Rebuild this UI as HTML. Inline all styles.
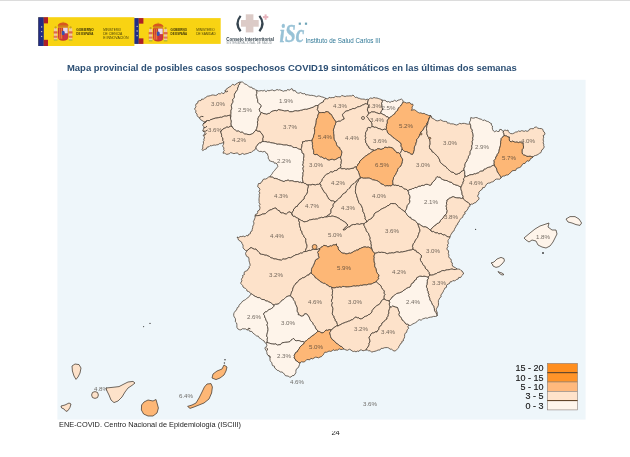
<!DOCTYPE html>
<html lang="es"><head><meta charset="utf-8"><title>Mapa provincial COVID19</title>
<style>
html,body{margin:0;padding:0;background:#fff;}
body{width:630px;height:457px;position:relative;overflow:hidden;font-family:"Liberation Sans",Arial,sans-serif;}
.abs{position:absolute;white-space:nowrap;}
</style></head><body>
<svg width="630" height="457" viewBox="0 0 630 457" style="position:absolute;left:0;top:0;filter:blur(0.35px)">
<rect x="57.4" y="79.8" width="528.2" height="339.8" fill="#eef6fa"/>
<g font-family="Liberation Sans, Arial, sans-serif" font-size="6.2" fill="#3a332c" fill-opacity="0.72" text-anchor="middle"><text x="101" y="390.8">4.8%</text></g>
<g stroke="#41382f" stroke-width="0.75" stroke-linejoin="round">
<polygon fill="#fde2ca" points="240.8,82 239.01,82.21 237.52,83.14 236,84 234.65,85.18 232.59,84.27 231.3,85.6 230.39,86.66 229,87.06 228,88 226.5,88.8 225.7,90.3 225.1,92.03 224,93.5 222.75,93.39 221.7,92.7 220.34,93.89 218.28,93.65 217,95 215.43,95.42 213.76,95.06 212.12,94.98 210.57,95.58 209,96 207.2,96.28 205.83,97.46 204.3,98.3 203.28,99.26 201.71,99.06 200.95,100.55 199.5,100.6 197.93,101.31 197.7,103.12 196.13,103.83 195.6,105.4 196.06,106.88 194.88,108.03 194.8,109.4 195.94,110.74 195.67,112.75 197,114 197.18,115.74 198.18,116.97 199.5,118 200.42,119.58 202,120.5 203.42,121.4 205,122 206.25,121.06 207.65,120.48 209.39,120.73 210.6,119.7 212.2,119.27 213.74,118.63 215.33,118.18 217,118 218.59,117.7 220.15,117.24 221.84,117.35 223.3,116.5 224.87,116.02 226.57,116.2 228.12,115.6 229.7,115.2 230.38,116.52 230.5,118 230.99,116.45 230.84,114.86 231.05,113.29 231,111.7 231.07,110.1 231.83,108.59 231.51,106.95 231.32,105.32 232,103.8 232.79,102.6 233.11,101.26 232.67,99.69 233.6,98.53 234.48,97.36 234.4,95.9 234.43,94.38 235.12,93.13 235.87,91.9 236.8,90.74 237.6,89.53 237.6,88 238.43,86.9 238.35,85.32 239.66,84.48 239.85,83.04"/>
<polygon fill="#fef4ea" points="240.8,82 239.85,83.04 239.66,84.48 238.35,85.32 238.43,86.9 237.6,88 237.6,89.53 236.8,90.74 235.87,91.9 235.12,93.13 234.43,94.38 234.4,95.9 234.48,97.36 233.6,98.53 232.67,99.69 233.11,101.26 232.79,102.6 232,103.8 231.32,105.32 231.51,106.95 231.83,108.59 231.07,110.1 231,111.7 231.05,113.29 230.84,114.86 230.99,116.45 230.5,118 230.67,119.5 231.15,120.97 231,122.5 230.81,123.96 231.14,125.3 232,126.5 233.2,128.4 234.36,129.47 235.7,130.3 236.78,131.29 238.3,130.97 239.5,131.6 240.64,132.42 242.21,132.07 243.3,133 244.69,134.05 246.4,134.11 248,134.5 249.66,134.63 251.22,134.24 252.7,133.5 253.96,132.48 254.82,131.09 256,130 256.72,128.48 257.17,126.88 257.53,125.27 257.7,123.6 257.37,121.93 258.16,120.41 257.96,118.76 258.5,117.2 259.16,116.04 260.27,115.12 260.41,113.7 261,112.5 259.71,111.13 259.3,109.3 259.9,108.02 261.03,107 261.2,105.5 260.4,104.39 259.16,103.64 258.19,102.67 257.7,101.3 257.71,99.62 257.07,98.11 256.85,96.49 256.1,95 256.88,93.51 256.92,91.92 256.7,90.3 255.34,89.82 254.22,88.78 252.7,88.7 251.79,87.2 249.98,87.19 248.7,86.3 247.51,85.35 246.31,84.4 244.8,84 243.65,82.96 242.46,82.02"/>
<polygon fill="#fde2ca" points="205,122 206.25,121.06 207.65,120.48 209.39,120.73 210.6,119.7 212.2,119.27 213.74,118.63 215.33,118.18 217,118 218.59,117.7 220.15,117.24 221.84,117.35 223.3,116.5 224.87,116.02 226.57,116.2 228.12,115.6 229.7,115.2 230.38,116.52 230.5,118 230.67,119.5 231.15,120.97 231,122.5 230.81,123.96 231.14,125.3 232,126.5 230.23,126.28 228.59,127.4 226.8,127 225.65,127.89 224.29,128.39 223,129 221.83,130.38 220.5,131.6 221.06,132.81 221.46,134.08 221.7,135.4 221.63,136.78 222.65,137.77 223,139 222.79,140.41 223.72,141.62 223.7,143 222.15,142.91 220.72,143.59 219.2,143.7 218.11,144.74 216.75,144.75 215.51,145.21 214.1,145 212.79,145.36 211.51,145.79 210.06,145.73 209,146.8 207.19,147.09 206.33,148.99 204.6,149.4 202.7,150.6 202,149.33 202.86,148.07 202.7,146.8 202.85,145.09 203.54,143.45 203.3,141.7 204.1,140.59 203.75,139.09 204.6,138 204.13,136.61 203.3,135.4 204.32,134.2 205.2,132.9 204.19,131.64 202.7,131 203.35,129.4 204,127.8 203.61,126.37 202.7,125.2 203.22,123.95 204.03,122.92"/>
<polygon fill="#fde2ca" points="232,126.5 230.23,126.28 228.59,127.4 226.8,127 225.65,127.89 224.29,128.39 223,129 221.83,130.38 220.5,131.6 221.06,132.81 221.46,134.08 221.7,135.4 221.63,136.78 222.65,137.77 223,139 222.79,140.41 223.72,141.62 223.7,143 223.58,144.29 222.81,145.46 223,146.8 223.95,147.89 223.66,149.4 224.3,150.6 223.36,151.75 223,153.2 224.42,153.12 225.61,153.77 226.8,154.4 228.22,154.07 229.6,153.66 230.6,152.5 232.25,153.11 233.91,153.65 235.7,153.2 237.57,152.89 238.93,154.71 240.8,154.4 242.41,153.42 244.24,154.37 245.9,153.8 247.24,153.59 248.5,153.13 249.7,152.5 251.25,152.44 252.3,151.37 253.5,150.6 255.09,149.63 256,148 256.14,146.52 257.3,145.6 258.08,144.03 259.5,143 260.89,143.02 261.72,141.74 263,141.5 262.93,139.97 262.85,138.45 263.5,137 263.01,135.37 262,134 260.81,132.56 259.8,131 258.42,131.12 257.14,130.8 256,130 254.82,131.09 253.96,132.48 252.7,133.5 251.22,134.24 249.66,134.63 248,134.5 246.4,134.11 244.69,134.05 243.3,133 242.21,132.07 240.64,132.42 239.5,131.6 238.3,130.97 236.78,131.29 235.7,130.3 234.36,129.47 233.2,128.4"/>
<polygon fill="#fef4ea" points="256.7,90.3 258.22,91 259.82,90.89 261.45,90.57 263,91 264.48,90.28 266.03,91.7 267.48,90.4 269,90.8 270.65,90.34 272.3,89.9 274.06,90.86 275.7,90.3 277.02,89.45 278.35,90.15 279.68,89.74 281,90.3 282.28,90.79 283.56,91.29 285.01,90.52 286.3,91 287.52,89.53 289.78,90.17 291,88.7 292.55,89.07 293.13,90.91 295.19,90.5 296,92 297.36,92.94 298.88,93.22 300.65,92.51 302,93.5 303.33,93.76 304.77,93.53 305.83,94.97 307.28,94.7 308.6,95 310.18,95.4 311.83,95.29 313.42,95.6 315,96 316.51,96.74 318.21,95.93 319.79,96.11 321.3,96.8 322.95,97.13 324.5,97.76 326,98.5 324.84,99.34 323.85,100.35 323.38,101.88 322,102.5 320.54,103.33 319.23,104.36 318,105.5 316.4,105.5 314.8,106.16 313.37,107.18 311.7,107.7 310.15,108.3 308.55,108.71 307.01,109.36 305.3,109.3 303.66,109.44 302.18,110.21 300.54,110.35 299,110.9 297.39,111.05 295.73,110.75 294.15,111.1 292.6,111.7 290.99,111.8 289.4,111.7 287.95,110.53 286.3,110.9 284.67,111.08 283.14,110.52 281.57,110.25 280,110 278.32,109.64 276.87,110.97 275.16,110.42 273.6,110.9 271.97,111.35 270.6,112.21 269.5,113.5 268.18,113.47 266.97,114.36 265.6,114 264.01,113.68 262.5,113.09 261,112.5 259.71,111.13 259.3,109.3 259.9,108.02 261.03,107 261.2,105.5 260.4,104.39 259.16,103.64 258.19,102.67 257.7,101.3 257.71,99.62 257.07,98.11 256.85,96.49 256.1,95 256.88,93.51 256.92,91.92"/>
<polygon fill="#fde2ca" points="261,112.5 262.5,113.09 264.01,113.68 265.6,114 266.97,114.36 268.18,113.47 269.5,113.5 270.6,112.21 271.97,111.35 273.6,110.9 275.16,110.42 276.87,110.97 278.32,109.64 280,110 281.57,110.25 283.14,110.52 284.67,111.08 286.3,110.9 287.95,110.53 289.4,111.7 290.99,111.8 292.6,111.7 294.15,111.1 295.73,110.75 297.39,111.05 299,110.9 300.54,110.35 302.18,110.21 303.66,109.44 305.3,109.3 307.01,109.36 308.55,108.71 310.15,108.3 311.7,107.7 313.37,107.18 314.8,106.16 316.4,105.5 318,105.5 318.07,106.85 317.83,108.15 317.3,109.4 318.27,110.89 319,112.5 318.64,113.85 317.9,115.06 317.84,116.53 317.37,117.84 316.5,119 316.25,120.61 316.18,122.25 315.96,123.87 315.45,125.43 315,127 314.31,128.34 314.74,129.8 314.64,131.21 314.6,132.62 314.3,134 313.71,135.57 313.44,137.26 312.64,138.75 312,140.3 310.38,140.62 308.68,140.53 307.1,141.1 305.47,141 303.98,141.74 302.4,141.9 302.65,143.27 301.99,144.55 302,145.9 301.7,147.19 301.31,148.47 301.2,149.8 299.86,149.32 298.4,149.1 297.32,148.02 296,147.5 294.3,147.57 292.71,147.27 291.39,145.84 289.7,145.9 288.14,145.41 286.56,145 284.92,145.1 283.3,145 281.76,144.48 280.19,144.27 278.61,144.18 277,144.3 275.49,143.53 273.88,143.19 272.24,142.96 270.6,142.7 269.12,142.12 267.49,142.25 266,141.7 264.5,141.62 263,141.5 262.93,139.97 262.85,138.45 263.5,137 263.01,135.37 262,134 260.81,132.56 259.8,131 258.42,131.12 257.14,130.8 256,130 256.72,128.48 257.17,126.88 257.53,125.27 257.7,123.6 257.37,121.93 258.16,120.41 257.96,118.76 258.5,117.2 259.16,116.04 260.27,115.12 260.41,113.7"/>
<polygon fill="#fef4ea" points="263,141.5 264.5,141.62 266,141.7 267.49,142.25 269.12,142.12 270.6,142.7 272.24,142.96 273.88,143.19 275.49,143.53 277,144.3 278.61,144.18 280.19,144.27 281.76,144.48 283.3,145 284.92,145.1 286.56,145 288.14,145.41 289.7,145.9 291.39,145.84 292.71,147.27 294.3,147.57 296,147.5 297.32,148.02 298.4,149.1 299.86,149.32 301.2,149.8 302.01,151.14 302.09,152.85 303.78,153.76 304,155.4 303.94,156.99 303.49,158.54 303.84,160.18 303.2,161.7 303.31,163.3 302.7,164.9 303.67,166.5 302.92,168.1 303.2,169.7 303.57,171.33 302.9,172.86 303.1,174.48 302.89,176.05 302.4,177.6 302.47,179.23 302.85,180.81 303.2,182.4 301.87,182.88 300.53,182.16 299.2,182.4 297.7,181.56 296.01,181.78 294.4,181.6 292.88,180.96 291.25,180.8 289.53,180.96 288.1,180 286.78,180.58 285.29,180.71 284.1,181.6 282.88,181.25 281.7,180.8 280.12,180.21 278.57,179.54 277.04,178.83 275.4,178.4 273.88,178.44 272.75,177.09 271.22,177.13 269.8,176.8 270.52,175.7 271.4,174.74 272.2,173.7 272.81,172.49 273.64,171.45 274.6,170.5 275.62,169.13 276.77,167.86 277.8,166.5 277.5,165.22 277,164 276.01,163 274.41,163.25 273.66,161.74 272.2,161.7 270.94,161.2 269.57,160.85 269,159.4 268.15,158.13 268.35,156.57 267.73,155.24 267.5,153.8 266.18,153.33 265.57,151.93 264.3,151.4 262.63,151.94 261.11,151.29 259.48,151.52 258,150.6 256.72,149.52 256,148 256.14,146.52 257.3,145.6 258.08,144.03 259.5,143 260.89,143.02 261.72,141.74"/>
<polygon fill="#fde2ca" points="326,98.5 327.72,99.01 329.09,97.32 330.81,97.84 332.4,97.5 334.02,97.64 335.44,96.26 337.1,96.74 338.7,96.7 340.36,96.89 341.78,95.41 343.5,96 345.1,96.52 346.7,95.98 348.3,96 349.91,95.86 351.56,95.91 353,95 354.23,96.22 355.4,97.5 356.85,97.19 358.04,98.17 359.4,98.3 360.89,99.02 362.54,99.1 364.2,99.11 365.7,99.8 367.1,99.18 368.6,99.5 368,101 367.5,103 366.56,103.94 365.05,103.69 364.1,104.6 362.45,105.08 361,106 359.41,106.62 357.69,106.92 356.2,107.8 354.71,108.67 352.88,108.49 351.4,109.4 349.79,109.82 348.35,110.7 346.7,111 345.37,111.39 344.6,112.58 343.5,113.3 342.58,114.33 342.7,115.7 343.64,117.28 344.3,119 342.84,119.55 341.5,120.3 340.3,121.3 338.9,121.16 337.58,121.48 336.3,122 335.01,120.87 334.21,119.35 333.2,118 332.45,116.64 331.66,115.3 330.8,114 329.48,113.63 328.86,112.25 327.6,111.8 326.01,111.67 324.6,112.67 323,112.5 321.67,112.59 320.33,112.63 319,112.5 318.27,110.89 317.3,109.4 317.83,108.15 318.07,106.85 318,105.5 319.23,104.36 320.54,103.33 322,102.5 323.38,101.88 323.85,100.35 324.84,99.34"/>
<polygon fill="#fdb776" points="319,112.5 320.33,112.63 321.67,112.59 323,112.5 324.6,112.67 326.01,111.67 327.6,111.8 328.86,112.25 329.48,113.63 330.8,114 331.66,115.3 332.45,116.64 333.2,118 334.21,119.35 335.01,120.87 336.3,122 335.6,123.29 335.41,124.8 334.5,126 334.39,127.42 333.86,128.71 333.3,130 333.74,131.57 333.66,133.2 334.03,134.78 334.1,136.38 334.1,138 334.4,139.69 335.24,141.17 336.29,142.58 336.5,144.3 337.17,145.77 338.27,146.8 339.7,147.5 340.14,149.23 341.38,150.56 342,152.2 341.59,153.83 341.35,155.51 340.5,157 339.29,157.58 337.97,157.93 336.94,158.88 335.7,159.4 334.18,160.05 332.49,159.36 330.9,159.43 329.4,160.2 328.01,160.02 326.84,159.24 325.75,158.25 324.09,158.78 323,157.8 321.88,157.09 320.39,157.1 319.34,156.26 318.3,155.4 316.85,154.42 314.97,154.71 313.5,153.8 313.61,152.19 313.57,150.6 312.89,149.07 312.41,147.53 312.7,145.9 312.23,144.54 312.45,143.09 311.87,141.74 312,140.3 312.64,138.75 313.44,137.26 313.71,135.57 314.3,134 314.6,132.62 314.64,131.21 314.74,129.8 314.31,128.34 315,127 315.45,125.43 315.96,123.87 316.18,122.25 316.25,120.61 316.5,119 317.37,117.84 317.84,116.53 317.9,115.06 318.64,113.85"/>
<polygon fill="#fde2ca" points="312,140.3 310.38,140.62 308.68,140.53 307.1,141.1 305.47,141 303.98,141.74 302.4,141.9 302.65,143.27 301.99,144.55 302,145.9 301.7,147.19 301.31,148.47 301.2,149.8 302.01,151.14 302.09,152.85 303.78,153.76 304,155.4 303.94,156.99 303.49,158.54 303.84,160.18 303.2,161.7 303.31,163.3 302.7,164.9 303.67,166.5 302.92,168.1 303.2,169.7 303.57,171.33 302.9,172.86 303.1,174.48 302.89,176.05 302.4,177.6 302.47,179.23 302.85,180.81 303.2,182.4 304.22,183.38 305.71,183.49 306.57,184.78 308,185 309.5,184.85 311.01,185.06 312.48,184.38 314,184.7 315.51,185.06 316.89,184.31 318.38,184.41 319.8,184 320.23,182.71 321.24,181.72 322.06,180.63 322.2,179.2 323.42,177.99 324.37,176.56 325.4,175.2 326.64,174.27 328.11,173.74 329.4,172.9 330.78,171.78 332.75,172.24 334.03,170.86 335.7,170.5 337.11,170.32 337.91,168.92 339.11,168.33 340.5,168.1 341.12,166.63 340.45,165 341.25,163.55 341.2,162 341.5,160.26 340.87,158.65 340.5,157 339.29,157.58 337.97,157.93 336.94,158.88 335.7,159.4 334.18,160.05 332.49,159.36 330.9,159.43 329.4,160.2 328.01,160.02 326.84,159.24 325.75,158.25 324.09,158.78 323,157.8 321.88,157.09 320.39,157.1 319.34,156.26 318.3,155.4 316.85,154.42 314.97,154.71 313.5,153.8 313.61,152.19 313.57,150.6 312.89,149.07 312.41,147.53 312.7,145.9 312.23,144.54 312.45,143.09 311.87,141.74"/>
<polygon fill="#fde2ca" points="336.3,122 337.58,121.48 338.9,121.16 340.3,121.3 341.5,120.3 342.84,119.55 344.3,119 343.64,117.28 342.7,115.7 342.58,114.33 343.5,113.3 344.6,112.58 345.37,111.39 346.7,111 348.35,110.7 349.79,109.82 351.4,109.4 352.88,108.49 354.71,108.67 356.2,107.8 357.69,106.92 359.41,106.62 361,106 362.45,105.08 364.1,104.6 365.05,103.69 366.56,103.94 367.5,103 367.62,104.4 368.66,105.55 368.6,107 367.79,108.43 367.3,110 368.18,111.56 368.6,113.3 367.98,115.09 366.7,116.5 367.67,117.46 368.47,118.56 369.2,119.7 369.83,120.89 370.85,121.78 371.7,122.8 372.1,124.04 372.05,125.45 373,126.5 371.54,126.82 370.32,127.92 368.62,127.42 367.3,128.2 367.39,129.9 366.45,131.34 365.53,132.78 365.7,134.5 365.18,136.1 365.97,137.7 365.25,139.3 365.7,140.9 365.81,142.61 366.94,143.97 367.3,145.6 368.73,146.31 369.06,148.11 370.5,148.8 371.66,149.68 373.19,149.65 374.4,150.4 372.95,150.95 371.78,151.97 370.5,152.8 369.42,153.78 368.06,154.34 366.98,155.32 365.7,156 364.54,157.01 363.25,157.88 362.26,159.1 361,160 359.81,161.19 359.46,163.01 358,164 357.52,165.75 356.2,167 354.65,166.94 353.56,168.38 352.01,168.32 350.6,168.7 349.08,169.24 347.42,168.88 345.9,169.4 344.67,168.58 343.2,168.73 341.74,168.88 340.5,168.1 341.12,166.63 340.45,165 341.25,163.55 341.2,162 341.5,160.26 340.87,158.65 340.5,157 341.35,155.51 341.59,153.83 342,152.2 341.38,150.56 340.14,149.23 339.7,147.5 338.27,146.8 337.17,145.77 336.5,144.3 336.29,142.58 335.24,141.17 334.4,139.69 334.1,138 334.1,136.38 334.03,134.78 333.66,133.2 333.74,131.57 333.3,130 333.86,128.71 334.39,127.42 334.5,126 335.41,124.8 335.6,123.29"/>
<polygon fill="#fde2ca" points="368.6,99.5 369.43,98.6 370.5,98 372.34,98.38 374,97.5 375.46,97.98 377,98 378.26,98.48 379.54,98.89 380.81,99.35 382,100 382.47,101.67 381.6,103.33 382,105 381.9,106.69 382.41,108.33 382.5,110 381.41,110.84 381.07,112.11 380.6,113.3 379.3,113.71 378,113.3 376.36,112.77 374.77,112.03 373,112 371.4,111.98 370.1,112.97 368.6,113.3 368.18,111.56 367.3,110 367.79,108.43 368.6,107 368.66,105.55 367.62,104.4 367.5,103 368,101"/>
<polygon fill="#fef4ea" points="382,100 383.3,100.37 384.76,100.35 386,100.88 387,102 388.47,101.5 390.06,102.43 391.48,101.39 393,101.5 394.47,100.29 396.52,101.34 398,100.2 399.73,99.81 401.3,99 402.8,100.2 403.2,102 402.41,103.38 401.5,104.69 400.6,106 399.61,106.89 398.68,107.84 398,109 397.64,110.46 396.41,111.26 395.5,112.3 394.86,113.75 393.58,114.57 392.4,115.5 391.41,116.43 390.26,117.15 389.2,118 388.1,116.92 386.34,116.83 385.4,115.5 384.22,114.95 383,114.5 381.89,113.72 380.6,113.3 381.07,112.11 381.41,110.84 382.5,110 382.41,108.33 381.9,106.69 382,105 381.6,103.33 382.47,101.67"/>
<polygon fill="#fde2ca" points="368.6,113.3 370.1,112.97 371.4,111.98 373,112 374.77,112.03 376.36,112.77 378,113.3 379.3,113.71 380.6,113.3 381.89,113.72 383,114.5 384.22,114.95 385.4,115.5 386.34,116.83 388.1,116.92 389.2,118 388.3,119.13 387.4,120.27 387.3,121.8 387.41,123.12 386.63,124.29 386.7,125.6 386.24,126.82 386.65,128.21 386,129.4 384.16,129.18 382.5,130 381.05,129.36 379.59,128.73 378,128.5 376.91,127.6 375.6,127.25 374.1,127.38 373,126.5 372.05,125.45 372.1,124.04 371.7,122.8 370.85,121.78 369.83,120.89 369.2,119.7 368.47,118.56 367.67,117.46 366.7,116.5 367.98,115.09"/>
<polygon fill="#fdb776" points="403.2,102 404.81,102.21 406.32,102.99 408,102.8 409.74,102.52 410.96,104.29 412.7,104 413.03,105.66 412,107 412.21,108.79 411.4,110.4 412.96,109.87 414.6,109.8 415.9,110.68 417.1,111.7 418.27,112.44 419.52,112.99 421.03,112.84 422.2,113.6 424.06,113.32 425.62,114.29 427.3,114.8 428.82,115.54 430.5,115.5 430.24,116.85 429.05,117.86 429.22,119.38 428.6,120.6 428.29,122.03 427.03,122.96 426.63,124.34 426,125.6 425.18,126.7 424.06,127.58 423.65,128.96 422.9,130.1 422.01,131.13 420.84,131.96 420.59,133.47 419.7,134.5 419.37,135.92 418.72,137.18 417.8,138.3 416.7,139.68 416.67,141.46 416,143 415.88,144.35 415.28,145.54 414.56,146.69 414.3,148 414.36,149.77 413.9,151.39 413.42,153.01 412.5,154.5 410.85,154.17 409.56,153.04 408,152.5 406.63,151.55 404.8,151.61 403.5,150.5 402,149 401.74,147.48 400.77,146.12 400.96,144.5 400.6,143 399.18,142.15 398.1,140.9 396.71,140.22 395.48,139.29 394.3,138.3 392.86,137.48 391.83,136.16 390.5,135.2 389.26,134.31 388.05,133.38 387.3,132 386.89,130.58 386,129.4 386.65,128.21 386.24,126.82 386.7,125.6 386.63,124.29 387.41,123.12 387.3,121.8 387.4,120.27 388.3,119.13 389.2,118 390.26,117.15 391.41,116.43 392.4,115.5 393.58,114.57 394.86,113.75 395.5,112.3 396.41,111.26 397.64,110.46 398,109 398.68,107.84 399.61,106.89 400.6,106 401.5,104.69 402.41,103.38"/>
<polygon fill="#fde2ca" points="373,126.5 374.1,127.38 375.6,127.25 376.91,127.6 378,128.5 379.59,128.73 381.05,129.36 382.5,130 384.16,129.18 386,129.4 386.89,130.58 387.3,132 388.05,133.38 389.26,134.31 390.5,135.2 391.83,136.16 392.86,137.48 394.3,138.3 395.48,139.29 396.71,140.22 398.1,140.9 399.18,142.15 400.6,143 400.96,144.5 400.77,146.12 401.74,147.48 402,149 401.6,150.69 400.83,152.21 399.8,153.6 398.39,152.67 396.7,152.8 395.8,151.33 394.29,150.35 393.5,148.8 392.03,147.88 390.41,147.41 388.7,147.2 387.4,147.7 386.1,147.33 384.8,147.2 383.8,148.41 382.39,148.94 381,149.5 379.35,148.9 377.6,148.8 376.16,149.91 374.4,150.4 373.19,149.65 371.66,149.68 370.5,148.8 369.06,148.11 368.73,146.31 367.3,145.6 366.94,143.97 365.81,142.61 365.7,140.9 365.25,139.3 365.97,137.7 365.18,136.1 365.7,134.5 365.53,132.78 366.45,131.34 367.39,129.9 367.3,128.2 368.62,127.42 370.32,127.92 371.54,126.82"/>
<polygon fill="#fdb776" points="374.4,150.4 376.16,149.91 377.6,148.8 379.35,148.9 381,149.5 382.39,148.94 383.8,148.41 384.8,147.2 386.1,147.33 387.4,147.7 388.7,147.2 390.41,147.41 392.03,147.88 393.5,148.8 394.29,150.35 395.8,151.33 396.7,152.8 398.39,152.67 399.8,153.6 400.49,154.73 400.74,156.08 401.37,157.24 402.2,158.3 402.71,159.87 402.37,161.43 402.2,163 401.51,164.4 401.02,165.92 399.8,167 398.57,168.07 397.76,169.37 397.5,171 396.47,172.49 395.9,174.2 394.98,175.18 394.46,176.46 393.5,177.4 393.4,179.27 392.7,181 392.98,182.74 393,184.5 391.9,185.12 391.1,186.1 389.73,185.68 388.35,185.92 386.98,185.57 385.6,186.1 384.38,185.54 383.36,184.57 382.03,184.24 380.8,183.7 379.72,182.35 378.29,181.43 376.8,180.6 375.38,180.34 374,179.99 372.55,179.82 371.3,179 369.77,178.29 368.16,178.09 366.5,178.2 364.88,178.19 363.24,178.24 361.7,177.6 360,178.5 360.1,176.92 359.57,175.49 359.13,174.03 358.6,172.6 358.31,171.07 357.02,169.96 356.41,168.57 356.2,167 357.52,165.75 358,164 359.46,163.01 359.81,161.19 361,160 362.26,159.1 363.25,157.88 364.54,157.01 365.7,156 366.98,155.32 368.06,154.34 369.42,153.78 370.5,152.8 371.78,151.97 372.95,150.95"/>
<polygon fill="#fde2ca" points="356.2,167 354.65,166.94 353.56,168.38 352.01,168.32 350.6,168.7 349.08,169.24 347.42,168.88 345.9,169.4 344.67,168.58 343.2,168.73 341.74,168.88 340.5,168.1 339.11,168.33 337.91,168.92 337.11,170.32 335.7,170.5 334.03,170.86 332.75,172.24 330.78,171.78 329.4,172.9 328.11,173.74 326.64,174.27 325.4,175.2 324.37,176.56 323.42,177.99 322.2,179.2 322.06,180.63 321.24,181.72 320.23,182.71 319.8,184 320.96,184.92 320.71,186.6 321.71,187.6 322.11,188.93 323,190 323.66,191.29 324.36,192.56 325.74,193.37 326.49,194.6 327,196 327.85,197.37 328.55,198.86 330.04,199.72 331,201 332.45,200.86 333.79,201.19 335,202 336.42,201.27 337.35,199.94 338.47,198.85 339.78,197.97 341,197 341.81,195.51 342.79,194.17 344.3,193.3 345.84,192.45 346.6,190.85 347.82,189.7 349,188.5 350.13,187.71 350.72,186.38 351.48,185.22 352.57,184.39 353.8,183.7 354.94,182.55 356.29,181.63 357.17,180.16 358.48,179.2 360,178.5 360.1,176.92 359.57,175.49 359.13,174.03 358.6,172.6 358.31,171.07 357.02,169.96 356.41,168.57"/>
<polygon fill="#fde2ca" points="308,185 309.5,184.85 311.01,185.06 312.48,184.38 314,184.7 315.51,185.06 316.89,184.31 318.38,184.41 319.8,184 320.96,184.92 320.71,186.6 321.71,187.6 322.11,188.93 323,190 323.66,191.29 324.36,192.56 325.74,193.37 326.49,194.6 327,196 327.85,197.37 328.55,198.86 330.04,199.72 331,201 332.45,200.86 333.79,201.19 335,202 334.01,203.38 333.08,204.79 333.24,206.75 332,208 331.12,209.37 330.97,210.99 331.02,212.67 330,214 328.57,214.87 327.11,215.7 326,217 324.47,217.09 323.04,217.74 321.43,217.33 320,218 318.64,218.21 317.44,219.1 316,219 314.69,219.33 313.32,219.19 312,219.5 310.59,219.8 309.18,220.1 308,221 306.7,221.45 305.34,221.67 304,222 302.86,221.06 301.47,220.55 300.19,219.86 299,219 297.54,218.16 296,217.5 294.84,216.39 293.05,216.29 292,215 291.7,213.5 292,212 293.38,210.95 293.59,209.03 295,208 295.66,206.66 297.3,206.3 297.8,204.8 299,204 299.71,202.71 301.07,202.07 301.7,200.7 302.83,199.83 304,199 304.22,197.24 305.06,195.78 306.33,194.54 307,193 307.57,191.45 307.45,189.81 307.73,188.22 308.22,186.65"/>
<polygon fill="#fde2ca" points="269.8,176.8 271.22,177.13 272.75,177.09 273.88,178.44 275.4,178.4 277.04,178.83 278.57,179.54 280.12,180.21 281.7,180.8 282.88,181.25 284.1,181.6 285.29,180.71 286.78,180.58 288.1,180 289.53,180.96 291.25,180.8 292.88,180.96 294.4,181.6 296.01,181.78 297.7,181.56 299.2,182.4 300.53,182.16 301.87,182.88 303.2,182.4 304.22,183.38 305.71,183.49 306.57,184.78 308,185 308.22,186.65 307.73,188.22 307.45,189.81 307.57,191.45 307,193 306.33,194.54 305.06,195.78 304.22,197.24 304,199 302.83,199.83 301.7,200.7 301.07,202.07 299.71,202.71 299,204 297.8,204.8 297.3,206.3 295.66,206.66 295,208 293.59,209.03 293.38,210.95 292,212 291.7,213.5 292,215 291.49,213.18 290,212 288.55,211.99 287.55,213.12 286.47,214.05 285,214 283.88,213.16 282.54,212.91 281.03,213.05 280,212 279.32,210.68 277.73,210.27 276.76,209.24 276,208 274.42,208.25 272.93,208.78 271.55,209.66 270,210 268.78,210.76 267.65,211.68 266.48,212.52 265.5,213.65 264,214 262.22,214.13 260.68,215.05 259,215.5 257.67,215.67 256.32,215.75 255,216 255.42,214.42 257,214 257.66,212.63 257.71,210.99 259.43,210.07 259.85,208.59 260,207 259.16,205.69 260.24,204.11 259.04,202.85 259.15,201.41 259,200 259.04,198.58 259.22,197.17 259.39,195.77 259.1,194.3 260,193 258.91,191.57 259.9,189.62 259.31,188.07 257.68,186.78 258,185 258.5,183.5 260.51,183.51 261.1,182.1 262.37,181.37 262.81,179.81 264,179 265.68,179.04 267.07,178.35 268.29,177.19"/>
<polygon fill="#fde2ca" points="255,216 256.32,215.75 257.67,215.67 259,215.5 260.68,215.05 262.22,214.13 264,214 265.5,213.65 266.48,212.52 267.65,211.68 268.78,210.76 270,210 271.55,209.66 272.93,208.78 274.42,208.25 276,208 276.76,209.24 277.73,210.27 279.32,210.68 280,212 281.03,213.05 282.54,212.91 283.88,213.16 285,214 286.47,214.05 287.55,213.12 288.55,211.99 290,212 291.49,213.18 292,215 293.05,216.29 294.84,216.39 296,217.5 297.54,218.16 299,219 298.61,220.67 299.54,222.18 299.31,223.84 299.5,225.44 300,227 300.54,228.49 300.46,230.18 302,231.33 302,233 302.63,234.32 303.64,235.38 303.97,236.88 305.08,237.88 306,239 305.7,240.59 305.98,242.09 306.33,243.57 307,245 307.02,246.43 306.74,247.77 305.93,248.94 305.76,250.31 305,251.5 303.43,251.97 302.18,253.19 300.39,253.11 299,254 297.54,254.47 295.99,254.7 294.65,255.44 293.29,256.15 292,257 290.61,257.82 288.83,257.48 287.42,258.27 286,259 284.49,259.16 282.9,258.92 281.58,260.21 280,260 278.51,259.69 277.04,259.29 275.55,258.94 274,259 272.54,258.16 270.82,257.85 269.62,256.51 268,256 266.49,255.23 264.8,255.21 263.28,254.47 261.61,254.36 260,254 259.27,252.54 258.18,251.35 256.84,250.38 256,249 254.41,249.31 252.98,248.63 251.59,247.73 250,248 249.15,249.15 247.82,249.82 247,251 245.28,250.33 244,249 243.05,247.82 243.06,246.4 243,245 242.05,243.63 241.5,241.96 240,241 238.51,240.03 237.92,238.4 237,237 238.64,237.59 240.13,236.52 241.72,236.58 243.26,236.12 244.91,236.85 246.36,235.38 248,236 248.54,234.38 250.32,233.76 250.53,231.87 252,231 252.18,229.34 252.7,227.77 252.8,226.1 253.65,224.61 254,223 253.39,221.48 254.13,220.16 254.64,218.81 255.08,217.44"/>
<polygon fill="#fde2ca" points="360,178.5 358.73,179.57 358.32,181.13 357.42,182.41 356.56,183.72 356.2,185.3 355.66,186.86 355.65,188.48 355.5,190.09 355.4,191.7 355.6,193.08 356.38,194.3 356.62,195.67 357,197 357.59,198.3 357.81,199.74 358.5,201 358.73,202.47 359.46,203.66 360.83,204.47 361.36,205.76 362,207 362.5,208.5 362.89,210.04 362.97,211.68 364,213 364.46,214.46 364.71,215.96 365.33,217.4 365,219 366.36,220.26 367,222 365.2,222.55 364,224 362.5,223.62 361,223.86 359.5,224.43 358,224 356.47,224.04 355.03,224.66 353.45,224.48 352,225 350.64,225.55 349.85,226.97 348.18,227.07 346.9,227.75 346,229 344.64,229.92 343,230 343.76,228.76 344.91,227.91 345.83,226.83 346.84,225.84 348,225 346.65,224.13 345.82,222.6 344.41,221.8 343,221 341.83,220.12 340.39,219.68 339.46,218.4 338,218 336.6,217.21 335.09,216.74 333.55,216.34 332,216 330.55,216.55 328.95,216.18 327.52,216.85 326,217 327.11,215.7 328.57,214.87 330,214 331.02,212.67 330.97,210.99 331.12,209.37 332,208 333.24,206.75 333.08,204.79 334.01,203.38 335,202 336.42,201.27 337.35,199.94 338.47,198.85 339.78,197.97 341,197 341.81,195.51 342.79,194.17 344.3,193.3 345.84,192.45 346.6,190.85 347.82,189.7 349,188.5 350.13,187.71 350.72,186.38 351.48,185.22 352.57,184.39 353.8,183.7 354.94,182.55 356.29,181.63 357.17,180.16 358.48,179.2"/>
<polygon fill="#fde2ca" points="360,178.5 361.7,177.6 363.24,178.24 364.88,178.19 366.5,178.2 368.16,178.09 369.77,178.29 371.3,179 372.55,179.82 374,179.99 375.38,180.34 376.8,180.6 378.29,181.43 379.72,182.35 380.8,183.7 382.03,184.24 383.36,184.57 384.38,185.54 385.6,186.1 386.98,185.57 388.35,185.92 389.73,185.68 391.1,186.1 391.9,185.12 393,184.5 394.26,185.1 395.64,184.98 396.9,185.6 398.3,185.3 399.34,186.16 400.61,186.57 402.08,186.6 403,187.7 404,188.8 405.59,189.01 406.92,189.62 407.8,190.9 408.75,192.11 408.6,193.77 409.5,195 410.06,196.46 409.95,197.98 409.36,199.54 410,201 409.56,202.66 408.61,204.06 407.4,205.33 407,207 406.65,208.31 406.22,209.59 405.32,210.68 405,212 403.79,210.95 402.39,210.13 401.26,208.99 400,208 398.68,207.32 397.66,206.34 397,205 396,204 394.5,203.58 393,203.7 391.5,203.51 390,204 388.98,205.42 387.27,205.91 386,207 384.49,207.72 382.93,208.36 381.44,209.13 380,210 378.93,211.05 377.61,211.69 376.31,212.35 375,213 374.19,214.21 373.99,215.8 372.77,216.76 372,218 370.78,219.04 369.21,219.63 367.92,220.59 367,222 366.36,220.26 365,219 365.33,217.4 364.71,215.96 364.46,214.46 364,213 362.97,211.68 362.89,210.04 362.5,208.5 362,207 361.36,205.76 360.83,204.47 359.46,203.66 358.73,202.47 358.5,201 357.81,199.74 357.59,198.3 357,197 356.62,195.67 356.38,194.3 355.6,193.08 355.4,191.7 355.5,190.09 355.65,188.48 355.66,186.86 356.2,185.3 356.56,183.72 357.42,182.41 358.32,181.13 358.73,179.57"/>
<polygon fill="#fde2ca" points="299,219 300.19,219.86 301.47,220.55 302.86,221.06 304,222 305.34,221.67 306.7,221.45 308,221 309.18,220.1 310.59,219.8 312,219.5 313.32,219.19 314.69,219.33 316,219 317.44,219.1 318.64,218.21 320,218 321.43,217.33 323.04,217.74 324.47,217.09 326,217 327.52,216.85 328.95,216.18 330.55,216.55 332,216 333.55,216.34 335.09,216.74 336.6,217.21 338,218 339.46,218.4 340.39,219.68 341.83,220.12 343,221 344.41,221.8 345.82,222.6 346.65,224.13 348,225 346.84,225.84 345.83,226.83 344.91,227.91 343.76,228.76 343,230 344.64,229.92 346,229 346.9,227.75 348.18,227.07 349.85,226.97 350.64,225.55 352,225 353.45,224.48 355.03,224.66 356.47,224.04 358,224 359.5,224.43 361,223.86 362.5,223.62 364,224 364.06,225.43 364.71,226.62 365.15,227.89 366,229 366.34,230.7 367.27,232.11 368.58,233.33 369,235 369.6,236.44 370.31,237.86 369.92,239.55 370.5,241 371.11,242.26 370.96,243.7 371.4,245 371.26,246.73 371.83,248.35 372.2,250 371.31,248.52 369.8,247.7 368.3,247.05 366.64,247.34 365.1,246.9 363.41,247.17 361.83,247.77 360.3,248.5 358.98,248.82 358.17,250.13 356.64,250.04 355.6,250.9 354.17,251.04 353.17,252.04 351.93,252.55 350.8,253.3 349.14,253.11 347.59,253.71 346,254 344.51,253.26 342.8,253.22 341.3,252.5 340.25,251.15 338.83,250.1 338.1,248.5 338,246.85 336.51,245.68 336.5,244 335.05,245.04 333.06,244.86 331.7,246.1 330.29,245.82 329.08,246.54 327.8,246.9 326.61,246.01 325.21,245.64 323.8,245.3 322.67,246.62 321.02,247.29 319.8,248.5 318.42,249.06 317,249.5 315.32,249.38 313.63,249.14 312,249.8 310.58,250.53 309,250.3 307.75,250.96 306.47,251.55 305,251.5 305.76,250.31 305.93,248.94 306.74,247.77 307.02,246.43 307,245 306.33,243.57 305.98,242.09 305.7,240.59 306,239 305.08,237.88 303.97,236.88 303.64,235.38 302.63,234.32 302,233 302,231.33 300.46,230.18 300.54,228.49 300,227 299.5,225.44 299.31,223.84 299.54,222.18 298.61,220.67"/>
<polygon fill="#fde2ca" points="367,222 367.92,220.59 369.21,219.63 370.78,219.04 372,218 372.77,216.76 373.99,215.8 374.19,214.21 375,213 376.31,212.35 377.61,211.69 378.93,211.05 380,210 381.44,209.13 382.93,208.36 384.49,207.72 386,207 387.27,205.91 388.98,205.42 390,204 391.5,203.51 393,203.7 394.5,203.58 396,204 397,205 397.66,206.34 398.68,207.32 400,208 401.26,208.99 402.39,210.13 403.79,210.95 405,212 406.23,213.16 407.02,214.65 408,216 409.08,216.98 410.64,217.23 411.32,218.82 412.62,219.47 414,220 415.29,220.71 416.32,221.68 417.02,222.98 418,224 418.38,225.54 419,227 419.49,228.5 420,230 419.79,231.6 418.92,232.97 418.55,234.52 418,236 417.67,237.5 416.57,238.54 415.8,239.78 415,241 414.6,242.47 413.36,243.52 413,245 412.48,246.33 413.07,247.67 413,249 411.64,249.91 410.09,250.17 408.54,250.39 407.06,250.87 405.57,251.32 404,251.5 402.53,252.03 401.02,251.96 399.55,252.46 398,252 396.47,251.98 395.01,252.48 393.56,253.06 392,252.8 390.52,253.13 389.01,253.12 387.55,253.74 386,253.3 384.57,252.56 383.06,252.43 381.55,252.31 380,252.5 378.57,252.18 377.28,252.77 375.96,253.17 374.6,253.3 373.78,252.21 372.65,251.36 372.2,250 371.83,248.35 371.26,246.73 371.4,245 370.96,243.7 371.11,242.26 370.5,241 369.92,239.55 370.31,237.86 369.6,236.44 369,235 368.58,233.33 367.27,232.11 366.34,230.7 366,229 365.15,227.89 364.71,226.62 364.06,225.43 364,224 365.2,222.55"/>
<polygon fill="#fef4ea" points="407.8,190.9 408.74,189.84 410.06,189.52 411.35,189.15 412.5,188.5 413.95,188.47 414.96,187.28 416.55,187.61 417.7,186.78 418.9,186.1 420.57,186.08 422.03,185.24 423.76,185.44 425.2,184.5 426.89,184.21 428.47,184.63 430,185.3 431.36,184.56 431.88,183.04 432.82,181.91 434,181 434.88,179.96 435.65,178.85 436.1,177.53 437,176.5 438.43,177.17 440,177 440.98,178.47 442.42,179.33 444,180 445.54,180.37 447.13,180.6 448.5,181.5 450,182 451.7,182.35 452.85,183.8 454.4,184.44 456,185 457.34,185.27 458.56,185.85 459.73,186.54 461,187 460.95,188.55 461.17,190.06 461.82,191.49 462,193 462.2,194.69 463.18,196.23 463,198 461.33,198.47 459.67,197.94 458,198 456.49,197.82 455,197.49 453.58,196.78 452,197 450.81,197.85 449.3,198.16 448.38,199.47 447,200 447.05,201.55 446.36,202.98 446.84,204.6 446,206 446.61,207.44 446.33,209.03 447.19,210.43 447,212 446.54,213.43 445.76,214.64 444.48,215.52 443.85,216.83 443,218 441.81,219.19 440.53,220.32 440,222 438.75,223.11 437.01,223.57 436,225 434.46,225.72 433.37,227.05 432,228 430.95,229.32 431,231 430.11,230 429.16,229.06 428.06,228.31 427,227.5 425.37,226.88 423.54,226.92 422,226 420.72,225.23 419.54,224.26 418,224 417.02,222.98 416.32,221.68 415.29,220.71 414,220 412.62,219.47 411.32,218.82 410.64,217.23 409.08,216.98 408,216 407.02,214.65 406.23,213.16 405,212 405.32,210.68 406.22,209.59 406.65,208.31 407,207 407.4,205.33 408.61,204.06 409.56,202.66 410,201 409.36,199.54 409.95,197.98 410.06,196.46 409.5,195 408.6,193.77 408.75,192.11"/>
<polygon fill="#fde2ca" points="430.5,115.5 430.21,116.88 429.37,118.05 428.97,119.39 428.43,120.67 428,122 427.85,123.68 427.08,125.21 426.77,126.85 426.5,128.5 426.62,130.13 427.07,131.71 426.85,133.4 427.27,134.98 428,136.5 429.12,137.8 429.47,139.44 430,141 430.12,142.67 430.14,144.33 429.39,145.93 429.5,147.6 430.08,149.09 431.66,149.96 432,151.6 433.62,152.3 434.71,153.68 436,154.8 437.22,155.93 438.22,157.23 439,158.7 439.7,159.97 440,161.39 440.6,162.7 441.91,163.75 443.2,164.84 444.57,165.81 446,166.7 446.88,168.04 447.97,169.15 449.15,170.17 450.29,171.23 451.7,172 453.07,172.22 454.15,172.93 455,174 456.78,174.23 458.37,173.53 460,173 461,171.56 462.49,170.76 464,170 464.71,171.42 464.78,172.95 464.75,174.5 465,176 464.76,177.59 463.44,178.81 463.99,180.66 463,182 462.98,183.44 462.17,184.57 461.67,185.82 461,187 459.73,186.54 458.56,185.85 457.34,185.27 456,185 454.4,184.44 452.85,183.8 451.7,182.35 450,182 448.5,181.5 447.13,180.6 445.54,180.37 444,180 442.42,179.33 440.98,178.47 440,177 438.43,177.17 437,176.5 436.1,177.53 435.65,178.85 434.88,179.96 434,181 432.82,181.91 431.88,183.04 431.36,184.56 430,185.3 428.47,184.63 426.89,184.21 425.2,184.5 423.76,185.44 422.03,185.24 420.57,186.08 418.9,186.1 417.7,186.78 416.55,187.61 414.96,187.28 413.95,188.47 412.5,188.5 411.35,189.15 410.06,189.52 408.74,189.84 407.8,190.9 406.92,189.62 405.59,189.01 404,188.8 403,187.7 402.08,186.6 400.61,186.57 399.34,186.16 398.3,185.3 396.9,185.6 395.64,184.98 394.26,185.1 393,184.5 392.98,182.74 392.7,181 393.4,179.27 393.5,177.4 394.46,176.46 394.98,175.18 395.9,174.2 396.47,172.49 397.5,171 397.76,169.37 398.57,168.07 399.8,167 401.02,165.92 401.51,164.4 402.2,163 402.37,161.43 402.71,159.87 402.2,158.3 401.37,157.24 400.74,156.08 400.49,154.73 399.8,153.6 400.83,152.21 401.6,150.69 402,149 403.5,150.5 404.8,151.61 406.63,151.55 408,152.5 409.56,153.04 410.85,154.17 412.5,154.5 413.42,153.01 413.9,151.39 414.36,149.77 414.3,148 414.56,146.69 415.28,145.54 415.88,144.35 416,143 416.67,141.46 416.7,139.68 417.8,138.3 418.72,137.18 419.37,135.92 419.7,134.5 420.59,133.47 420.84,131.96 422.01,131.13 422.9,130.1 423.65,128.96 424.06,127.58 425.18,126.7 426,125.6 426.63,124.34 427.03,122.96 428.29,122.03 428.6,120.6 429.22,119.38 429.05,117.86 430.24,116.85"/>
<polygon fill="#fde2ca" points="430.5,115.5 431.56,116.31 431.61,117.96 433,118.5 434.55,119.49 436,120.6 437.62,120.84 439.15,120.52 440.6,119.8 442.08,120.69 443.63,121.38 445.4,121.4 446.79,121.62 447.5,123.2 449.15,122.91 450.2,123.8 451.84,123.83 453.46,123.95 455,124.6 456.66,125.04 458.17,124.37 459.64,123.34 461.3,123.8 462.87,123.36 464.43,123.38 466,123.8 467.33,124.11 468.67,124.14 470,123.8 470.69,125.31 470.72,127.09 471.25,128.66 472.4,130 472.12,131.68 472.81,133.25 473.12,134.86 473.2,136.5 472.64,138.08 473.06,139.78 472.21,141.33 472.4,143 472.37,144.52 471.64,145.95 471.94,147.52 471.6,149 470.94,150.23 470.19,151.44 470.17,152.9 470.06,154.34 469.2,155.5 468.35,156.7 468.42,158.34 467.21,159.37 467.11,160.93 466,162 465.32,163.44 464.92,164.97 464.99,166.66 464,168 464,170 462.49,170.76 461,171.56 460,173 458.37,173.53 456.78,174.23 455,174 454.15,172.93 453.07,172.22 451.7,172 450.29,171.23 449.15,170.17 447.97,169.15 446.88,168.04 446,166.7 444.57,165.81 443.2,164.84 441.91,163.75 440.6,162.7 440,161.39 439.7,159.97 439,158.7 438.22,157.23 437.22,155.93 436,154.8 434.71,153.68 433.62,152.3 432,151.6 431.66,149.96 430.08,149.09 429.5,147.6 429.39,145.93 430.14,144.33 430.12,142.67 430,141 429.47,139.44 429.12,137.8 428,136.5 427.27,134.98 426.85,133.4 427.07,131.71 426.62,130.13 426.5,128.5 426.77,126.85 427.08,125.21 427.85,123.68 428,122 428.43,120.67 428.97,119.39 429.37,118.05 430.21,116.88"/>
<polygon fill="#fef4ea" points="470,123.8 469.39,122.12 470.44,120.66 470.61,119.08 470.8,117.5 472.37,118.05 473.93,118.1 475.5,117.5 477.1,117.69 478.51,118.46 480,119 481.59,119.24 482.81,120.56 484.68,119.96 486,121 487.45,121.42 488.88,121.91 490,123 491.42,123.51 491.39,125.23 492.5,126 492.29,127.78 492.56,129.45 493.5,131 494.75,131.8 496.24,130.72 497.5,131.5 499.13,131.43 499.79,129.41 501.5,129.5 502.15,130.82 503.6,131 503.31,132.54 504.12,133.98 504,135.5 503.23,136.73 502,137.5 501.14,138.66 501.16,140.11 500.7,141.4 500.75,142.83 500.52,144.22 500.41,145.63 500,147 499.54,148.47 499.19,149.97 499,151.5 498.45,153.05 497.28,154.33 497,156 495.8,156.82 495.73,158.41 494.96,159.51 494,160.5 494.29,162.09 494.1,163.72 494.5,165.3 492.94,165.33 491.71,166.13 490.5,167 488.75,167.31 487.09,167.84 485.7,169 484.2,169.16 483.44,170.78 482.06,171.19 480.43,171.1 479.4,172.2 478.25,173.04 476.85,173.19 475.68,173.97 474.16,173.81 473,174.6 471.25,174.66 469.57,175 468,175.8 466.54,176.5 465,176 464.75,174.5 464.78,172.95 464.71,171.42 464,170 464,168 464.99,166.66 464.92,164.97 465.32,163.44 466,162 467.11,160.93 467.21,159.37 468.42,158.34 468.35,156.7 469.2,155.5 470.06,154.34 470.17,152.9 470.19,151.44 470.94,150.23 471.6,149 471.94,147.52 471.64,145.95 472.37,144.52 472.4,143 472.21,141.33 473.06,139.78 472.64,138.08 473.2,136.5 473.12,134.86 472.81,133.25 472.12,131.68 472.4,130 471.25,128.66 470.72,127.09 470.69,125.31"/>
<polygon fill="#fde2ca" points="503.6,131 504.91,129.99 506.58,130.55 508,130 508.36,131.61 509.33,132.76 510.7,133.6 512.57,133.71 514.19,133.01 515.7,132 517.2,131.99 518.46,130.93 520.08,131.48 521.4,130.7 522.8,130.87 524.16,131.38 525.67,130.66 527,131.4 528.64,130.74 529.62,129.04 531.4,128.6 533.3,128.79 534.66,127.3 536.4,127 537.86,128.19 539.59,128.5 541.4,128.6 542.77,129.32 543.23,130.77 543.95,132.02 545,133 544.6,134.8 543,135.7 543.77,137.06 543.33,138.55 543.14,140.01 543.6,141.4 543.11,142.88 543.75,144.22 543.71,145.65 544.3,147 543.54,148.08 542.92,149.25 541.71,150.03 541.4,151.4 540.71,152.8 539.36,153.39 538.25,154.29 537,155 535.57,155.47 534.09,155.85 533,157 531.55,156.66 530.12,156.22 528.6,156.4 526.81,156.39 525.3,155.36 523.6,155 522.53,154.04 522.04,152.82 522,151.4 522.01,149.74 523.07,148.47 523.6,147 523.25,145.69 523.1,144.35 523,143 521.47,142.93 520.1,141.92 518.43,142.66 517,142 515.56,142.31 514.18,141.98 512.85,141.09 511.37,141.82 510,141.4 509.19,140.02 509.22,138.52 509.3,137 507.82,137.17 506.74,135.95 505.32,135.88 504,135.5 504.12,133.98 503.31,132.54"/>
<polygon fill="#fdb776" points="504,135.5 505.32,135.88 506.74,135.95 507.82,137.17 509.3,137 509.22,138.52 509.19,140.02 510,141.4 511.37,141.82 512.85,141.09 514.18,141.98 515.56,142.31 517,142 518.43,142.66 520.1,141.92 521.47,142.93 523,143 523.1,144.35 523.25,145.69 523.6,147 523.07,148.47 522.01,149.74 522,151.4 522.04,152.82 522.53,154.04 523.6,155 525.3,155.36 526.81,156.39 528.6,156.4 530.12,156.22 531.55,156.66 533,157 532.03,158.03 530.53,158.53 530,160 528.95,161.23 527.04,160.74 526,162 525,163.45 523.05,163.62 522,165 521.11,166.6 519.73,167.52 518,168 516.52,168.6 515.78,170.38 514,170.5 512.29,170.74 511.29,172.09 510,173 508.96,174.25 507.68,175.03 506,175 504.87,175.95 503.25,176.08 501.85,176.59 501,178 500.59,176.74 499.86,175.63 499.2,174.5 498.32,173.25 497.44,172 496.8,170.6 496.6,169.11 496.15,167.73 494.81,166.74 494.5,165.3 494.1,163.72 494.29,162.09 494,160.5 494.96,159.51 495.73,158.41 495.8,156.82 497,156 497.28,154.33 498.45,153.05 499,151.5 499.19,149.97 499.54,148.47 500,147 500.41,145.63 500.52,144.22 500.75,142.83 500.7,141.4 501.16,140.11 501.14,138.66 502,137.5 503.23,136.73"/>
<polygon fill="#fde2ca" points="465,176 466.54,176.5 468,175.8 469.57,175 471.25,174.66 473,174.6 474.16,173.81 475.68,173.97 476.85,173.19 478.25,173.04 479.4,172.2 480.43,171.1 482.06,171.19 483.44,170.78 484.2,169.16 485.7,169 487.09,167.84 488.75,167.31 490.5,167 491.71,166.13 492.94,165.33 494.5,165.3 494.81,166.74 496.15,167.73 496.6,169.11 496.8,170.6 497.44,172 498.32,173.25 499.2,174.5 499.86,175.63 500.59,176.74 501,178 499.84,179.17 498.17,179.14 496.49,179.07 495.09,179.69 494,181 492.73,181.8 491.24,182.14 490,183 488.38,183.09 487.03,183.72 486,185 485.31,186.31 484.52,187.52 482.64,187.64 482.23,189.23 481,190 479.99,191.09 478.81,192.09 478.88,193.83 478,195 477.62,196.51 478.95,197.6 479,199 478,200.32 476.67,201.22 475.76,202.64 474,203 472.9,204.14 471.2,204.07 470,205 469.32,203.68 468.36,202.64 467,202 465.89,201.11 464.69,200.31 463.64,199.36 463,198 463.18,196.23 462.2,194.69 462,193 461.82,191.49 461.17,190.06 460.95,188.55 461,187 461.67,185.82 462.17,184.57 462.98,183.44 463,182 463.99,180.66 463.44,178.81 464.76,177.59"/>
<polygon fill="#fde2ca" points="463,198 463.64,199.36 464.69,200.31 465.89,201.11 467,202 468.36,202.64 469.32,203.68 470,205 469.73,206.54 468.17,207.3 468.04,208.93 467,210 466.34,211.29 464.71,211.94 465.14,213.96 463.56,214.64 463,216 462.6,217.47 461.23,218.29 460.14,219.3 459.46,220.57 459,222 457.77,222.92 457.69,224.59 456.2,225.33 455.92,226.88 455,228 454.48,229.39 454.05,230.83 452.67,231.7 452,233 451.11,234.22 450.5,235.58 450,237 448.46,236.97 447,236.5 445.89,235.6 444.73,234.79 443.01,235.11 442,234 440.55,233.47 438.92,233.99 437.57,232.82 436,233 434.74,232.53 433.69,231.51 432.12,231.82 431,231 430.95,229.32 432,228 433.37,227.05 434.46,225.72 436,225 437.01,223.57 438.75,223.11 440,222 440.53,220.32 441.81,219.19 443,218 443.85,216.83 444.48,215.52 445.76,214.64 446.54,213.43 447,212 447.19,210.43 446.33,209.03 446.61,207.44 446,206 446.84,204.6 446.36,202.98 447.05,201.55 447,200 448.38,199.47 449.3,198.16 450.81,197.85 452,197 453.58,196.78 455,197.49 456.49,197.82 458,198 459.67,197.94 461.33,198.47"/>
<polygon fill="#fde2ca" points="418,224 419.54,224.26 420.72,225.23 422,226 423.54,226.92 425.37,226.88 427,227.5 428.06,228.31 429.16,229.06 430.11,230 431,231 432.12,231.82 433.69,231.51 434.74,232.53 436,233 437.57,232.82 438.92,233.99 440.55,233.47 442,234 443.01,235.11 444.73,234.79 445.89,235.6 447,236.5 448.46,236.97 450,237 449.65,238.31 448.61,239.34 448.01,240.55 448,242 448.44,243.62 447.35,244.97 448.06,246.63 447,248 446.93,249.54 448.49,250.6 448.61,252.08 448.27,253.7 449,255 448.66,256.61 449.29,257.95 450.83,259.02 451.33,260.39 451,262 452.36,262.88 452.23,264.66 452.55,266.17 454,267 455.6,267.85 457,269 455.33,269.55 453.67,269.5 452,269 450.51,269.32 449.04,269.74 447.52,269.85 446,270 444.58,270.75 442.83,270.5 441.37,271.12 440,272 438.71,272.39 437.38,272.71 436.33,273.71 435,274 433.43,274.84 431.77,275.17 430,275 429.03,273.92 429.02,272.37 428,271.31 427.5,270 426.1,269.23 425.14,268.07 424.84,266.33 423.5,265.5 422.67,264.3 422.31,262.82 421.17,261.8 420.5,260.5 420.27,258.72 421.25,257.18 421.5,255.5 420.28,254.56 419.27,253.38 418,252.5 416.44,252.07 415.8,250.33 414.04,250.17 413,249 413.07,247.67 412.48,246.33 413,245 413.36,243.52 414.6,242.47 415,241 415.8,239.78 416.57,238.54 417.67,237.5 418,236 418.55,234.52 418.92,232.97 419.79,231.6 420,230 419.49,228.5 419,227 418.38,225.54"/>
<polygon fill="#fde2ca" points="430,275 431.77,275.17 433.43,274.84 435,274 436.33,273.71 437.38,272.71 438.71,272.39 440,272 441.37,271.12 442.83,270.5 444.58,270.75 446,270 447.52,269.85 449.04,269.74 450.51,269.32 452,269 453.67,269.5 455.33,269.55 457,269 458.49,269.07 459.93,269.3 461,270.5 462.19,271.04 462.67,272.38 463.8,273 463.06,274.11 462.36,275.25 461.4,276.2 460.61,277.57 458.79,277.41 458.17,279.03 456.7,279.4 455.65,280.3 454.44,280.85 452.84,280.57 451.9,281.7 450.17,281.8 449.47,283.57 448,284.1 446.59,285.16 446.5,287.28 444.8,288.1 444.39,289.4 443.58,290.49 443.23,291.81 442.4,292.9 441.76,294.05 440.8,295.04 441.21,296.73 440,297.6 439.2,299.11 438.38,300.61 438.4,302.4 438.51,304 438.31,305.54 437.6,307 436.74,308.2 436.3,309.51 436.5,311 437.32,312.6 437.17,314.3 437,316 436.7,314.29 436,312.7 435.02,311.55 434.41,310.24 434.4,308.7 433.87,307.49 433.71,306.09 432.74,305.11 432,304 431.55,302.55 430.82,301.21 429.81,299.99 429.7,298.4 429.23,297.06 428.5,295.81 428.96,294.18 428,293 428.01,291.47 427.2,290.16 427.33,288.61 426.5,287.3 426.41,285.86 426.95,284.51 427.03,283.09 427.3,281.7 427.11,280.07 428.35,278.65 428,277 429.15,276.15"/>
<polygon fill="#fef4ea" points="428,277 426.66,276.67 425.32,276.37 424,276 422.54,276.51 420.93,276.05 419.41,276.2 418,277 416.67,277.67 416.34,279.34 415.01,280.01 414,281 413.62,282.48 412.02,283.14 411.14,284.29 410.7,285.73 410,287 408.34,287.44 406.8,288.1 405.46,289.18 404,290 402.75,291.24 401.24,291.97 399.72,292.7 398,293 396.62,293.53 395.5,294.44 394.25,295.18 393.21,296.21 392,297 391.28,298.54 389.96,299.64 389,301 389.7,302.42 389.11,304.06 389.51,305.54 390,307 391.37,307.15 392.59,306.08 394,306.5 395.7,307.19 397.5,307.5 398.04,309.27 398.7,311 399.44,312.59 398.71,314.42 399.5,316 400.63,317.15 401.52,318.45 402,320 403.16,320.84 404.27,321.73 405,323 406.06,324.26 407.83,324.33 409,325.4 410.55,325.41 411.78,324.61 413,323.8 414.38,323.27 415.67,322.61 416.88,321.82 417.8,320.6 419.22,319.63 421.17,320.23 422.5,319 424.06,318.52 425.61,317.93 427.3,318.3 428.77,317.51 430.36,317.18 432,317 433.61,316.39 435.36,316.49 437,316 436.7,314.29 436,312.7 435.02,311.55 434.41,310.24 434.4,308.7 433.87,307.49 433.71,306.09 432.74,305.11 432,304 431.55,302.55 430.82,301.21 429.81,299.99 429.7,298.4 429.23,297.06 428.5,295.81 428.96,294.18 428,293 428.01,291.47 427.2,290.16 427.33,288.61 426.5,287.3 426.41,285.86 426.95,284.51 427.03,283.09 427.3,281.7 427.11,280.07 428.35,278.65"/>
<polygon fill="#fde2ca" points="374.6,253.3 375.96,253.17 377.28,252.77 378.57,252.18 380,252.5 381.55,252.31 383.06,252.43 384.57,252.56 386,253.3 387.55,253.74 389.01,253.12 390.52,253.13 392,252.8 393.56,253.06 395.01,252.48 396.47,251.98 398,252 399.55,252.46 401.02,251.96 402.53,252.03 404,251.5 405.57,251.32 407.06,250.87 408.54,250.39 410.09,250.17 411.64,249.91 413,249 414.04,250.17 415.8,250.33 416.44,252.07 418,252.5 419.27,253.38 420.28,254.56 421.5,255.5 421.25,257.18 420.27,258.72 420.5,260.5 421.17,261.8 422.31,262.82 422.67,264.3 423.5,265.5 424.84,266.33 425.14,268.07 426.1,269.23 427.5,270 428,271.31 429.02,272.37 429.03,273.92 430,275 429.15,276.15 428,277 426.66,276.67 425.32,276.37 424,276 422.54,276.51 420.93,276.05 419.41,276.2 418,277 416.67,277.67 416.34,279.34 415.01,280.01 414,281 413.62,282.48 412.02,283.14 411.14,284.29 410.7,285.73 410,287 408.34,287.44 406.8,288.1 405.46,289.18 404,290 402.75,291.24 401.24,291.97 399.72,292.7 398,293 396.62,293.53 395.5,294.44 394.25,295.18 393.21,296.21 392,297 391.28,298.54 389.96,299.64 389,301 387.74,300.53 386.35,300.37 385.19,299.65 384,299 383.85,297.41 384.06,295.89 384.9,294.5 383.84,293.11 384.28,291.21 383.3,289.8 382.16,288.83 381.48,287.57 381.06,286.15 380.2,285 378.75,284.08 377.46,282.96 376.2,281.8 376.77,280.59 377.68,279.64 378.6,278.7 378.01,277.37 378.91,276.03 378.6,274.7 377.63,273.71 376.89,272.61 376.45,271.36 376.2,270 375.79,268.36 374.76,266.93 374.6,265.2 374.73,263.56 374.04,262.02 373.88,260.41 373.8,258.8 374.07,257.44 373.67,255.97 374.5,254.69"/>
<polygon fill="#fdb776" points="319.8,248.5 321.02,247.29 322.67,246.62 323.8,245.3 325.21,245.64 326.61,246.01 327.8,246.9 329.08,246.54 330.29,245.82 331.7,246.1 333.06,244.86 335.05,245.04 336.5,244 336.51,245.68 338,246.85 338.1,248.5 338.83,250.1 340.25,251.15 341.3,252.5 342.8,253.22 344.51,253.26 346,254 347.59,253.71 349.14,253.11 350.8,253.3 351.93,252.55 353.17,252.04 354.17,251.04 355.6,250.9 356.64,250.04 358.17,250.13 358.98,248.82 360.3,248.5 361.83,247.77 363.41,247.17 365.1,246.9 366.64,247.34 368.3,247.05 369.8,247.7 371.31,248.52 372.2,250 372.65,251.36 373.78,252.21 374.6,253.3 374.5,254.69 373.67,255.97 374.07,257.44 373.8,258.8 373.88,260.41 374.04,262.02 374.73,263.56 374.6,265.2 374.76,266.93 375.79,268.36 376.2,270 376.45,271.36 376.89,272.61 377.63,273.71 378.6,274.7 378.91,276.03 378.01,277.37 378.6,278.7 377.68,279.64 376.77,280.59 376.2,281.8 374.96,282.39 373.68,282.88 372.46,283.51 371.23,284.13 369.8,284.2 368.21,284.24 366.7,285.03 365.08,284.84 363.5,285 361.93,285.42 360.29,285.32 358.76,286.09 357.1,285.8 355.55,286.22 353.91,285.86 352.36,286.32 350.8,286.6 349.2,286.85 347.6,286.97 346,287 344.4,286.6 342.77,286.36 341.3,287.39 339.64,286.92 338.1,287.4 336.5,287.23 334.9,287.92 333.3,287.89 331.7,287.4 330.62,286.61 329.08,286.72 328.26,285.43 327,285 325.83,284.33 324.86,283.29 323.32,283.36 322.2,282.6 320.91,281.97 319.73,281.18 318.78,280.05 317.5,279.4 316.5,278.25 315,277.6 314.46,275.98 313.19,275.1 312.09,274.06 311,273 311.42,271.42 311.4,269.73 311.76,268.14 312.7,266.7 313.34,265.35 314.01,264.02 314.53,262.62 315,261.2 315.62,259.82 316.9,259.1 318.25,258.45 319,257.2 318.29,255.7 318.32,253.96 317.5,252.5 318.17,251.11 319.51,250.11"/>
<polygon fill="#fde2ca" points="247,251 247.82,249.82 249.15,249.15 250,248 251.59,247.73 252.98,248.63 254.41,249.31 256,249 256.84,250.38 258.18,251.35 259.27,252.54 260,254 261.61,254.36 263.28,254.47 264.8,255.21 266.49,255.23 268,256 269.62,256.51 270.82,257.85 272.54,258.16 274,259 275.55,258.94 277.04,259.29 278.51,259.69 280,260 281.58,260.21 282.9,258.92 284.49,259.16 286,259 287.42,258.27 288.83,257.48 290.61,257.82 292,257 293.29,256.15 294.65,255.44 295.99,254.7 297.54,254.47 299,254 300.39,253.11 302.18,253.19 303.43,251.97 305,251.5 306.47,251.55 307.75,250.96 309,250.3 310.58,250.53 312,249.8 313.63,249.14 315.32,249.38 317,249.5 318.42,249.06 319.8,248.5 319.51,250.11 318.17,251.11 317.5,252.5 318.32,253.96 318.29,255.7 319,257.2 318.25,258.45 316.9,259.1 315.62,259.82 315,261.2 314.53,262.62 314.01,264.02 313.34,265.35 312.7,266.7 311.76,268.14 311.4,269.73 311.42,271.42 311,273 309.63,273.55 308.96,275.09 307.23,275.13 306.3,276.3 305.04,276.91 303.9,277.79 302.32,277.76 301.32,278.9 300,279.4 298.89,280.18 298.13,281.35 297.32,282.46 296,283 295.47,284.38 294.24,285.34 293.69,286.71 293,288 292.7,289.41 292.43,290.83 291.5,292 291.26,293.29 290.83,294.53 290.5,295.8 288.73,296.03 287,296.5 285.77,297.36 284.74,298.43 283.7,299.5 282.27,300.26 281.03,301.25 280,302.5 278.74,303.81 277,304.3 275.52,304.31 274.2,305 272.63,304.58 271.57,303.23 270.23,302.4 268.7,301.9 267.37,301.07 265.7,301.06 264.58,299.72 263,299.5 261.57,299.42 260.56,298.29 259.37,297.62 257.88,297.69 256.7,297 255.22,296.44 253.87,295.65 252.66,294.6 251.2,294 250.09,292.59 248.67,291.62 247,291 246.56,289.44 245.55,288.45 244.16,287.84 243,287 242.76,285.65 241.76,284.6 240.8,283.53 241,282 242.03,280.96 241.43,279.27 242.08,278.08 243,277 242.53,275.47 244.45,274.53 244,273 244.63,271.63 246.05,271.05 247.43,270.43 248,269 249.28,268.06 249.21,266.59 250.1,265.49 250,264 249.45,262.38 249.01,260.73 249,259 248.57,257.24 246.77,256.51 246,255 245.52,253.46 246.06,252.18"/>
<polygon fill="#fde2ca" points="311,273 312.09,274.06 313.19,275.1 314.46,275.98 315,277.6 316.5,278.25 317.5,279.4 318.78,280.05 319.73,281.18 320.91,281.97 322.2,282.6 323.32,283.36 324.86,283.29 325.83,284.33 327,285 328.26,285.43 329.08,286.72 330.62,286.61 331.7,287.4 332.11,288.95 332.65,290.48 332.42,292.11 332.5,293.7 332.05,295.24 332.64,296.92 332.43,298.49 331.7,300 331.44,301.45 332.54,302.74 331.91,304.23 331.77,305.66 332.5,307 333.04,308.67 332.76,310.33 332.5,312 332.34,313.63 332.68,315.14 334.17,316.36 334,318 335.22,318.97 335.17,320.7 336.62,321.53 337,323 337.44,324.52 338,326 336.34,326.01 335,327 333.51,327.8 332.5,329.23 331,330 329.33,329.64 327.67,330.39 326,330 324.84,331.23 323.66,332.44 322,333 320.65,332.39 319.42,331.5 317.9,331.3 317.27,330.07 316.07,329.26 315.5,328 314.95,326.58 314.1,325.35 313.06,324.25 312.66,322.73 311.5,321.7 310.63,320.66 309.91,319.55 309.51,318.27 309.1,317 308.12,315.88 307.41,314.5 306,313.8 304.55,313.91 303.81,315.42 302.62,316.04 301.2,316.2 299.72,315.17 298,314.6 298.37,313.12 297.3,311.84 297.02,310.45 297.2,309 296.95,307.39 296.35,305.91 295.6,304.48 295,303 294.82,301.62 293.87,300.55 293.22,299.36 293,298 291.42,297.28 290.5,295.8 290.83,294.53 291.26,293.29 291.5,292 292.43,290.83 292.7,289.41 293,288 293.69,286.71 294.24,285.34 295.47,284.38 296,283 297.32,282.46 298.13,281.35 298.89,280.18 300,279.4 301.32,278.9 302.32,277.76 303.9,277.79 305.04,276.91 306.3,276.3 307.23,275.13 308.96,275.09 309.63,273.55"/>
<polygon fill="#fde2ca" points="331.7,287.4 333.3,287.89 334.9,287.92 336.5,287.23 338.1,287.4 339.64,286.92 341.3,287.39 342.77,286.36 344.4,286.6 346,287 347.6,286.97 349.2,286.85 350.8,286.6 352.36,286.32 353.91,285.86 355.55,286.22 357.1,285.8 358.76,286.09 360.29,285.32 361.93,285.42 363.5,285 365.08,284.84 366.7,285.03 368.21,284.24 369.8,284.2 371.23,284.13 372.46,283.51 373.68,282.88 374.96,282.39 376.2,281.8 377.46,282.96 378.75,284.08 380.2,285 381.06,286.15 381.48,287.57 382.16,288.83 383.3,289.8 384.28,291.21 383.84,293.11 384.9,294.5 384.06,295.89 383.85,297.41 384,299 382.79,299.79 381.58,300.58 381,302 380.18,303.18 379.37,304.37 378,305 376.56,305.86 375.31,306.97 374,308 373.22,309.23 372.25,310.35 372.02,311.91 371,313 369.9,314.31 368.2,314.82 367,316 365.49,316.35 364.08,316.92 362.94,318.13 361.56,318.76 360,319 358.89,317.88 357.24,317.86 356,317 354.65,317.58 353.69,318.82 352.51,319.68 351,320 349.77,320.99 348.23,321.28 346.88,322 345.38,322.35 344,323 342.38,323.5 340.96,324.43 339.45,325.16 338,326 337.44,324.52 337,323 336.62,321.53 335.17,320.7 335.22,318.97 334,318 334.17,316.36 332.68,315.14 332.34,313.63 332.5,312 332.76,310.33 333.04,308.67 332.5,307 331.77,305.66 331.91,304.23 332.54,302.74 331.44,301.45 331.7,300 332.43,298.49 332.64,296.92 332.05,295.24 332.5,293.7 332.42,292.11 332.65,290.48 332.11,288.95"/>
<polygon fill="#fef4ea" points="251.2,294 250.07,295.09 249.29,296.54 248.04,297.51 246.76,298.44 245.6,299.5 244.26,300.3 242.81,300.98 241.81,302.19 240.9,303.5 239.68,304.3 239,305.48 238.69,306.93 237.28,307.6 236.9,309 236.35,310.32 235.01,311.25 234.26,312.48 233.75,313.83 233.7,315.4 234.19,316.95 235.27,318.35 235.54,319.96 235.3,321.7 236.51,322.87 236.87,324.28 236.9,325.79 236.9,327.3 237.77,328.83 239.3,329.7 240.95,329.91 242.36,328.72 244,328.9 245.64,328.92 247.1,330.06 248.8,329.7 249.68,331.33 251.81,331.41 252.8,332.9 254.1,333.94 255.4,334.97 256.7,336 258.31,336.18 259.06,337.66 260.3,338.4 261.5,339.2 262.57,340.26 264.08,340.88 264.7,342.4 265.85,343.18 267,342.4 267.36,340.8 267.21,339.2 267.57,337.6 266.62,336 267,334.4 267.32,332.81 267.75,331.24 268.06,329.65 267.9,328 267.49,326.45 266.96,324.92 267.61,323.22 267,321.7 266.05,320.22 265.57,318.52 264.7,317 264.54,315.65 263.68,314.43 264,313 265.18,312.01 266.76,311.66 267.9,310.6 269.04,309.56 270.56,309.17 271.8,308.3 272.98,307.47 273.85,306.43 274.2,305 272.63,304.58 271.57,303.23 270.23,302.4 268.7,301.9 267.37,301.07 265.7,301.06 264.58,299.72 263,299.5 261.57,299.42 260.56,298.29 259.37,297.62 257.88,297.69 256.7,297 255.22,296.44 253.87,295.65 252.66,294.6"/>
<polygon fill="#fef4ea" points="290.5,295.8 288.73,296.03 287,296.5 285.77,297.36 284.74,298.43 283.7,299.5 282.27,300.26 281.03,301.25 280,302.5 278.74,303.81 277,304.3 275.52,304.31 274.2,305 273.85,306.43 272.98,307.47 271.8,308.3 270.56,309.17 269.04,309.56 267.9,310.6 266.76,311.66 265.18,312.01 264,313 263.68,314.43 264.54,315.65 264.7,317 265.57,318.52 266.05,320.22 267,321.7 267.61,323.22 266.96,324.92 267.49,326.45 267.9,328 268.06,329.65 267.75,331.24 267.32,332.81 267,334.4 266.62,336 267.57,337.6 267.21,339.2 267.36,340.8 267,342.4 268.36,342.94 269.77,343.31 271.15,343.79 272.6,344 274.21,344.16 275.86,343.9 277.33,345.12 279,344.8 280.56,344.63 281.58,343.21 282.97,342.66 284.5,342.4 285.88,342.25 287.28,342.21 288.66,342.04 290,341.6 290.88,340.3 292.24,339.5 293.3,338.4 294.33,339.2 295.07,340.39 296.4,340.8 298.09,340.5 299.68,340.85 301.2,341.6 302.93,341.48 304.4,342.4 305.27,341.26 306.57,340.58 307.56,339.56 308.5,338.5 309.85,338.09 310.83,337.12 311.75,336.06 313,335.5 314.27,334.5 315.51,333.47 316.71,332.39 317.9,331.3 317.27,330.07 316.07,329.26 315.5,328 314.95,326.58 314.1,325.35 313.06,324.25 312.66,322.73 311.5,321.7 310.63,320.66 309.91,319.55 309.51,318.27 309.1,317 308.12,315.88 307.41,314.5 306,313.8 304.55,313.91 303.81,315.42 302.62,316.04 301.2,316.2 299.72,315.17 298,314.6 298.37,313.12 297.3,311.84 297.02,310.45 297.2,309 296.95,307.39 296.35,305.91 295.6,304.48 295,303 294.82,301.62 293.87,300.55 293.22,299.36 293,298 291.42,297.28"/>
<polygon fill="#fef4ea" points="267,342.4 268.36,342.94 269.77,343.31 271.15,343.79 272.6,344 274.21,344.16 275.86,343.9 277.33,345.12 279,344.8 280.56,344.63 281.58,343.21 282.97,342.66 284.5,342.4 285.88,342.25 287.28,342.21 288.66,342.04 290,341.6 290.88,340.3 292.24,339.5 293.3,338.4 294.33,339.2 295.07,340.39 296.4,340.8 298.09,340.5 299.68,340.85 301.2,341.6 302.93,341.48 304.4,342.4 303.69,344 302.21,344.88 301,346 299.81,347.19 299.21,348.82 298,350 297.45,351.67 295.73,352.46 295,354 294.16,355.21 294.5,356.71 294,358 295.18,358.82 295.66,360.34 297,361 298.29,362.31 300,363 299.47,364.49 299,366 298.35,367.6 296.83,368.54 296,370 295.89,371.39 295.86,372.8 295,374 294.03,375.49 292.13,375.73 291,377 289.53,377.21 288.4,376.06 287,376 285.28,375.59 284.37,374.16 283.31,372.92 282,372 280.15,371.96 278.88,370.74 277.21,370.33 276,369 274.66,368.02 274.42,366.16 272.51,365.64 272,364 271.84,362.62 270.68,361.63 270.07,360.42 270,359 269.82,357.41 268.96,356.22 267.94,355.14 267,354 266.92,352.58 266.49,351.3 265.98,350.06 265,349 265.04,347.57 266.51,346.57 266.88,345.25 266.37,343.65"/>
<polygon fill="#fdb776" points="317.9,331.3 316.71,332.39 315.51,333.47 314.27,334.5 313,335.5 311.75,336.06 310.83,337.12 309.85,338.09 308.5,338.5 307.56,339.56 306.57,340.58 305.27,341.26 304.4,342.4 303.69,344 302.21,344.88 301,346 299.81,347.19 299.21,348.82 298,350 297.45,351.67 295.73,352.46 295,354 294.16,355.21 294.5,356.71 294,358 295.18,358.82 295.66,360.34 297,361 298.29,362.31 300,363 301.25,361.75 303,362 304.51,361.89 305.52,360.79 306.55,359.72 308,359.5 309.7,359.92 310.88,358.26 312.63,358.9 314,358 315.41,357.2 316.97,357.34 318.6,357.88 320,357 321.46,356.65 322.33,355.63 323.34,354.77 324,353.5 324.9,352.17 326.53,352.32 327.8,351.72 329,351 330.49,351.41 331.86,351.05 333.1,349.69 334.65,350.54 336,350 337.64,350.15 339.1,348.8 340.82,349.53 342.42,349.33 344,349 342.8,347.82 341.69,346.52 340,346 338.79,344.84 337.51,343.76 336,343 335.09,341.91 334.24,340.76 332.88,340.12 332,339 331.17,337.88 330.63,336.65 330.38,335.3 330,334 329.79,332.53 330.67,331.34 331,330 329.33,329.64 327.67,330.39 326,330 324.84,331.23 323.66,332.44 322,333 320.65,332.39 319.42,331.5"/>
<polygon fill="#fde2ca" points="331,330 332.5,329.23 333.51,327.8 335,327 336.34,326.01 338,326 339.45,325.16 340.96,324.43 342.38,323.5 344,323 345.38,322.35 346.88,322 348.23,321.28 349.77,320.99 351,320 352.51,319.68 353.69,318.82 354.65,317.58 356,317 357.24,317.86 358.89,317.88 360,319 361.56,318.76 362.94,318.13 364.08,316.92 365.49,316.35 367,316 368.2,314.82 369.9,314.31 371,313 372.02,311.91 372.25,310.35 373.22,309.23 374,308 375.31,306.97 376.56,305.86 378,305 379.37,304.37 380.18,303.18 381,302 381.58,300.58 382.79,299.79 384,299 385.19,299.65 386.35,300.37 387.74,300.53 389,301 389.7,302.42 389.11,304.06 389.51,305.54 390,307 389.67,308.49 389.15,309.94 388.73,311.41 389,313 388.27,314.42 388.21,316.07 387.09,317.36 387,319 385.55,319.75 384.52,321.03 383.43,322.22 382,323 381.7,324.52 381,325.8 379.43,326.56 379,328 378.87,329.6 377.47,330.57 377,332 375.24,331.88 373.73,332.99 372,333 370.91,334.26 370.33,335.92 369,337 369.38,338.66 369.92,340.28 370,342 368.99,343.05 369.19,344.57 368.64,345.81 368,347 366.78,348.36 366,350 364.5,350.43 363,350.81 361.5,349.98 360,350 359.02,351.37 357.18,351.04 356,352 354.88,351.16 353.29,351.52 352.06,350.97 351,350 349.33,349.21 347.67,350.28 346,350 344,349 342.8,347.82 341.69,346.52 340,346 338.79,344.84 337.51,343.76 336,343 335.09,341.91 334.24,340.76 332.88,340.12 332,339 331.17,337.88 330.63,336.65 330.38,335.3 330,334 329.79,332.53 330.67,331.34"/>
<polygon fill="#fde2ca" points="390,307 391.37,307.15 392.59,306.08 394,306.5 395.7,307.19 397.5,307.5 398.04,309.27 398.7,311 399.44,312.59 398.71,314.42 399.5,316 400.63,317.15 401.52,318.45 402,320 403.16,320.84 404.27,321.73 405,323 406.06,324.26 407.83,324.33 409,325.4 407.73,326.45 408.69,328.32 407.5,329.4 406.91,330.83 406.58,332.42 405.1,333.3 404.61,334.86 404.63,336.51 404.3,338.1 403.35,339.12 403.52,340.71 401.86,341.38 401.9,342.9 400.46,343.64 400,345.05 399,346.09 398.7,347.6 397.62,348.62 396.64,349.74 395.6,350.8 393.97,351.02 392.75,350.2 391.6,349.2 390.05,349.2 388.94,348.12 387.6,347.6 385.99,347.61 384.4,347.74 382.9,348.4 381.11,348.36 379.9,350.05 378.1,350 376.58,350.77 374.97,351.29 373.3,351.6 371.59,352.17 370.22,350.73 368.6,350.8 367.41,350.04 366,350 366.78,348.36 368,347 368.64,345.81 369.19,344.57 368.99,343.05 370,342 369.92,340.28 369.38,338.66 369,337 370.33,335.92 370.91,334.26 372,333 373.73,332.99 375.24,331.88 377,332 377.47,330.57 378.87,329.6 379,328 379.43,326.56 381,325.8 381.7,324.52 382,323 383.43,322.22 384.52,321.03 385.55,319.75 387,319 387.09,317.36 388.21,316.07 388.27,314.42 389,313 388.73,311.41 389.15,309.94 389.67,308.49"/>
<polygon fill="#fef4ea" points="524,238 527,235.5 530,233 535,229 540,226 546,224 549,223 548,227 552,230 556,230 557,234 555,238 553,242 550,246 546,248 542,247 538,245 536,241 532,240 529,242 526,240"/>
<polygon fill="#fef4ea" points="566,219 570,216.6 575,216.6 579,219 581.6,223 580,225.4 576,224.6 572,223 568,222"/>
<polygon fill="#fef4ea" points="491,263 494,262 497,259 501,257.4 504,258.6 504.4,261 502,264 499,266.6 496,267.4 493,266 492.4,264"/>
<polygon fill="#fef4ea" points="498,271.5 500,272.5 502,273 504,274.6 502,275 499.5,273.5"/>
<polygon fill="#fde2ca" points="72,366 75,364 79,364.6 81,368 80,373 78,377 76,379.4 74,376 72.4,371"/>
<polygon fill="#fde2ca" points="61,406 65,405 69,403 71,404 70,407.4 68,410.6 66,411.4 64,409 61.6,408"/>
<polygon fill="#fde2ca" points="106,388 112,387.4 119,386.6 124,384 128,382 133,381.4 135,383 132,385.4 128,388 125,392 122,397 118,401 114,402.6 111,400 109,395 107,391"/>
<polygon fill="#fdb776" points="144,402 148,400 153,401 156,399.5 157,403 158.4,408 157,413 153,416 148,416 143.6,414 141.4,410 141.6,405"/>
<polygon fill="#fdb776" points="212,378 213,374 217,371 222,369 224,365 227,367 226,371 224,375 220,378 216,379.6"/>
<polygon fill="#fdb776" points="207,384 211,383.6 212.4,387 211.6,393 209,399 204,403 199,405 194,407 190,408.4 187.6,406.4 192,405 196,403 199,398 202,392 204.4,387"/>
<circle fill="#fde2ca" cx="95" cy="395" r="3.4"/>
<circle fill="#fdb776" cx="314.6" cy="246.9" r="2.4"/>
<circle fill="#fde2ca" cx="363" cy="118" r="1.5"/>
<circle fill="#fdb776" cx="421" cy="134" r="1"/>
<circle fill="#fdb776" cx="429.8" cy="138.3" r="1"/>
<polyline fill="none" stroke-width="0.9" points="199.3,117.6 201.5,116.4 203.4,116.6"/>
<polyline fill="none" stroke-width="0.9" points="203,123.6 205,122.8 206.8,121.2"/>
<polyline fill="none" stroke-width="0.9" points="203.8,127.8 205.6,127.4 207,126.2"/>
<polyline fill="none" stroke-width="0.9" points="203.2,131.2 205.5,131.2 207.6,130"/>
<polyline fill="none" stroke-width="0.9" points="203.6,135.6 205.4,134.6 206.4,133.4"/>
<polyline fill="none" stroke-width="0.9" points="224.6,90.6 226.6,91.8 228,91"/>
<polyline fill="none" stroke-width="0.9" points="247.4,329.4 248.8,328.2 250.4,328.8"/>
<polyline fill="none" stroke-width="0.9" points="268.2,355.4 269.8,356 270.4,357.6"/>
<polyline fill="none" stroke-width="0.9" points="266.4,347.6 267.6,349 267,350.6"/>
</g>
<circle fill="#444" cx="543" cy="253" r="1"/>
<circle fill="#444" cx="475.6" cy="229.4" r="0.6"/>
<circle fill="#444" cx="143.6" cy="326.6" r="0.6"/>
<circle fill="#444" cx="150" cy="323.4" r="0.7"/>
<circle fill="#444" cx="225" cy="359.8" r="0.8"/>
<circle fill="#444" cx="224.4" cy="363" r="0.7"/>
<g font-family="Liberation Sans, Arial, sans-serif" font-size="6.2" fill="#3a332c" fill-opacity="0.72" text-anchor="middle">
<text x="218" y="105.8">3.0%</text>
<text x="245" y="111.8">2.5%</text>
<text x="286" y="102.8">1.9%</text>
<text x="340" y="107.8">4.3%</text>
<text x="374" y="107.5">3.3%</text>
<text x="388.5" y="110.1">2.5%</text>
<text x="377" y="122.1">3.4%</text>
<text x="406" y="127.8">5.2%</text>
<text x="290" y="128.8">3.7%</text>
<text x="239" y="142.3">4.2%</text>
<text x="215" y="131.8">3.6%</text>
<text x="284" y="162.8">2.2%</text>
<text x="325" y="138.8">5.4%</text>
<text x="352" y="139.8">4.4%</text>
<text x="380" y="142.8">3.6%</text>
<text x="450" y="144.8">3.0%</text>
<text x="482" y="148.8">2.9%</text>
<text x="528" y="142.8">4.0%</text>
<text x="509" y="159.8">5.7%</text>
<text x="382" y="166.8">6.5%</text>
<text x="316" y="166.8">3.0%</text>
<text x="423" y="166.8">3.0%</text>
<text x="476" y="184.8">4.6%</text>
<text x="338" y="184.8">4.2%</text>
<text x="379" y="197.8">4.0%</text>
<text x="281" y="197.8">4.3%</text>
<text x="312" y="207.8">4.7%</text>
<text x="348" y="209.8">4.3%</text>
<text x="431" y="203.8">2.1%</text>
<text x="451" y="218.8">3.8%</text>
<text x="392" y="232.8">3.6%</text>
<text x="335" y="236.8">5.0%</text>
<text x="277" y="237.8">4.4%</text>
<text x="433" y="252.8">3.0%</text>
<text x="543" y="238.8">1.8%</text>
<text x="344" y="269.8">5.9%</text>
<text x="399" y="273.8">4.2%</text>
<text x="276" y="276.8">3.2%</text>
<text x="439" y="284.8">3.3%</text>
<text x="413" y="303.8">2.4%</text>
<text x="355" y="303.8">3.0%</text>
<text x="315" y="303.8">4.6%</text>
<text x="254" y="318.8">2.6%</text>
<text x="288" y="324.8">3.0%</text>
<text x="361" y="330.8">3.2%</text>
<text x="388" y="333.8">3.4%</text>
<text x="316" y="348.8">5.0%</text>
<text x="284" y="357.8">2.3%</text>
<text x="297" y="383.8">4.6%</text>
<text x="370" y="406.2">3.6%</text>
<text x="186" y="397.8">6.4%</text>
</g>
<rect x="547.3" y="363.4" width="30.2" height="9.3" fill="#ff8e1e" stroke="#8a7f78" stroke-width="0.6"/>
<rect x="547.3" y="372.7" width="30.2" height="9.3" fill="#ff9429" stroke="#8a7f78" stroke-width="0.6"/>
<rect x="547.3" y="382" width="30.2" height="9.3" fill="#ffb97d" stroke="#8a7f78" stroke-width="0.6"/>
<rect x="547.3" y="391.3" width="30.2" height="9.3" fill="#ffe3cb" stroke="#8a7f78" stroke-width="0.6"/>
<rect x="547.3" y="400.6" width="30.2" height="9.3" fill="#fff6ec" stroke="#8a7f78" stroke-width="0.6"/>
<line x1="547.3" x2="577.5" y1="372.7" y2="372.7" stroke="#5b3d1f" stroke-width="1"/>
<line x1="547.3" x2="577.5" y1="400.6" y2="400.6" stroke="#5b3d1f" stroke-width="1"/>
<g font-family="Liberation Sans, Arial, sans-serif" font-size="9" fill="#1a1a1a" stroke="#1a1a1a" stroke-width="0.15" text-anchor="end">
<text x="543.6" y="371.4">15 - 20</text>
<text x="543.6" y="380.7">10 - 15</text>
<text x="543.6" y="390">5 - 10</text>
<text x="543.6" y="399.3">3 - 5</text>
<text x="543.6" y="408.6">0 - 3</text>
</g>
</svg>
<svg width="630" height="56" viewBox="0 0 630 56" style="position:absolute;left:0;top:0;filter:blur(0.3px)">
<rect x="38.2" y="17.2" width="96.2" height="28.8" fill="#f8d313"/>
<rect x="38.2" y="17.2" width="5.6" height="28.8" fill="#212d86"/>
<rect x="43.8" y="17.2" width="4.2" height="6.192" fill="#ad1f28"/>
<rect x="43.8" y="39.808" width="4.2" height="6.192" fill="#ad1f28"/>
<circle cx="41.672" cy="26.9" r="0.65" fill="#e8e4c0"/>
<circle cx="41.672" cy="31.6" r="0.65" fill="#e8e4c0"/>
<circle cx="41.672" cy="36.3" r="0.65" fill="#e8e4c0"/>
<g transform="translate(53.4,21.8)">
<rect x="0.6" y="6.2" width="3.2" height="12.2" rx="0.8" fill="#f1c9a0"/>
<rect x="15.6" y="6.2" width="3.2" height="12.2" rx="0.8" fill="#f1c9a0"/>
<rect x="0.2" y="9.5" width="4" height="2.2" fill="#d9553a" opacity="0.85"/>
<rect x="15.2" y="9.5" width="4" height="2.2" fill="#d9553a" opacity="0.85"/>
<rect x="0.2" y="14" width="4" height="2" fill="#d9553a" opacity="0.7"/>
<rect x="15.2" y="14" width="4" height="2" fill="#d9553a" opacity="0.7"/>
<circle cx="2.2" cy="5.6" r="1.1" fill="#c7a21e"/>
<circle cx="17.2" cy="5.6" r="1.1" fill="#c7a21e"/>
<rect x="0.4" y="17.6" width="3.6" height="1.2" fill="#a8b528"/>
<rect x="15.4" y="17.6" width="3.6" height="1.2" fill="#a8b528"/>
<path d="M4.3 4.2 Q4.6 1.2 9.7 0.8 Q14.8 1.2 15.1 4.2 L14.2 5 L5.2 5 Z" fill="#d8561f"/>
<rect x="5" y="3.6" width="9.4" height="1.4" fill="#c9861c"/>
<rect x="9.3" y="0" width="0.8" height="1.4" fill="#c9861c"/>
<path d="M4.6 5.6 H14.8 V14.6 Q14.8 18.8 9.7 18.9 Q4.6 18.8 4.6 14.6 Z" fill="#c5392c"/>
<rect x="9.7" y="6" width="4.6" height="5.6" fill="#e9d9e3"/>
<rect x="5.2" y="12" width="4.2" height="5.4" fill="#d94a35"/>
<rect x="10" y="12" width="4.2" height="5.6" fill="#c8354a"/>
<ellipse cx="9.7" cy="11.2" rx="1.7" ry="2.3" fill="#3a4fae"/>
<rect x="5.6" y="6.4" width="1.2" height="10.4" fill="#e8733a" opacity="0.8"/>
<rect x="7.6" y="6.4" width="1.0" height="10.4" fill="#e8a03a" opacity="0.6"/>
</g>
<g font-family="Liberation Sans, Arial, sans-serif" font-size="3.1" font-weight="bold" fill="#3a3208">
<text x="76.3" y="31" textLength="17.6" lengthAdjust="spacingAndGlyphs">GOBIERNO</text>
<text x="76.3" y="35" textLength="17.2" lengthAdjust="spacingAndGlyphs">DE ESPAÑA</text>
</g>
<g font-family="Liberation Sans, Arial, sans-serif" font-size="3.1" fill="#4a400a">
<text x="103.2" y="31" textLength="18" lengthAdjust="spacingAndGlyphs">MINISTERIO</text>
<text x="103.2" y="35" textLength="19" lengthAdjust="spacingAndGlyphs">DE CIENCIA</text>
<text x="103.2" y="39" textLength="25.4" lengthAdjust="spacingAndGlyphs">E INNOVACIÓN</text>
</g>
<rect x="134.4" y="18.1" width="86.3" height="25.8" fill="#f8d313"/>
<rect x="134.4" y="18.1" width="4.4" height="25.8" fill="#212d86"/>
<rect x="138.8" y="18.1" width="4.6" height="5.547" fill="#ad1f28"/>
<rect x="138.8" y="38.353" width="4.6" height="5.547" fill="#ad1f28"/>
<circle cx="137.128" cy="26.3" r="0.65" fill="#e8e4c0"/>
<circle cx="137.128" cy="31" r="0.65" fill="#e8e4c0"/>
<circle cx="137.128" cy="35.7" r="0.65" fill="#e8e4c0"/>
<g transform="translate(148.4,22.6)">
<rect x="0.6" y="6.2" width="3.2" height="12.2" rx="0.8" fill="#f1c9a0"/>
<rect x="15.6" y="6.2" width="3.2" height="12.2" rx="0.8" fill="#f1c9a0"/>
<rect x="0.2" y="9.5" width="4" height="2.2" fill="#d9553a" opacity="0.85"/>
<rect x="15.2" y="9.5" width="4" height="2.2" fill="#d9553a" opacity="0.85"/>
<rect x="0.2" y="14" width="4" height="2" fill="#d9553a" opacity="0.7"/>
<rect x="15.2" y="14" width="4" height="2" fill="#d9553a" opacity="0.7"/>
<circle cx="2.2" cy="5.6" r="1.1" fill="#c7a21e"/>
<circle cx="17.2" cy="5.6" r="1.1" fill="#c7a21e"/>
<rect x="0.4" y="17.6" width="3.6" height="1.2" fill="#a8b528"/>
<rect x="15.4" y="17.6" width="3.6" height="1.2" fill="#a8b528"/>
<path d="M4.3 4.2 Q4.6 1.2 9.7 0.8 Q14.8 1.2 15.1 4.2 L14.2 5 L5.2 5 Z" fill="#d8561f"/>
<rect x="5" y="3.6" width="9.4" height="1.4" fill="#c9861c"/>
<rect x="9.3" y="0" width="0.8" height="1.4" fill="#c9861c"/>
<path d="M4.6 5.6 H14.8 V14.6 Q14.8 18.8 9.7 18.9 Q4.6 18.8 4.6 14.6 Z" fill="#c5392c"/>
<rect x="9.7" y="6" width="4.6" height="5.6" fill="#e9d9e3"/>
<rect x="5.2" y="12" width="4.2" height="5.4" fill="#d94a35"/>
<rect x="10" y="12" width="4.2" height="5.6" fill="#c8354a"/>
<ellipse cx="9.7" cy="11.2" rx="1.7" ry="2.3" fill="#3a4fae"/>
<rect x="5.6" y="6.4" width="1.2" height="10.4" fill="#e8733a" opacity="0.8"/>
<rect x="7.6" y="6.4" width="1.0" height="10.4" fill="#e8a03a" opacity="0.6"/>
</g>
<g font-family="Liberation Sans, Arial, sans-serif" font-size="3.1" font-weight="bold" fill="#3a3208">
<text x="170.6" y="31" textLength="16.4" lengthAdjust="spacingAndGlyphs">GOBIERNO</text>
<text x="170.6" y="35" textLength="16.4" lengthAdjust="spacingAndGlyphs">DE ESPAÑA</text>
</g>
<g font-family="Liberation Sans, Arial, sans-serif" font-size="3.1" fill="#4a400a">
<text x="196.2" y="31" textLength="18.6" lengthAdjust="spacingAndGlyphs">MINISTERIO</text>
<text x="196.2" y="35" textLength="19.6" lengthAdjust="spacingAndGlyphs">DE SANIDAD</text>
</g>
<rect x="245.8" y="14.3" width="7.6" height="18.1" fill="#dccbc7"/>
<rect x="241" y="20" width="17.7" height="6.7" fill="#dccbc7"/>
<path d="M240.6 15.9 Q234.4 23.5 240.6 31.2" fill="none" stroke="#36454f" stroke-width="2.2"/>
<path d="M259.4 15.9 Q265.6 23.5 259.4 31.2" fill="none" stroke="#36454f" stroke-width="2.2"/>
<rect x="264.6" y="14.4" width="2" height="5.4" fill="#e6b3bc"/>
<rect x="262.9" y="16.1" width="5.4" height="2" fill="#e6b3bc"/>
<text x="226.3" y="40.8" font-family="Liberation Sans, Arial, sans-serif" font-size="4.9" font-weight="bold" fill="#34434d" textLength="47.6" lengthAdjust="spacingAndGlyphs">Consejo Interterritorial</text>
<text x="226.3" y="44.4" font-family="Liberation Sans, Arial, sans-serif" font-size="2.7" fill="#8c9499" textLength="45.6" lengthAdjust="spacingAndGlyphs">SISTEMA NACIONAL DE SALUD</text>
<text x="279.6" y="41.8" font-family="Liberation Serif, serif" font-style="italic" font-weight="bold" font-size="25" fill="#98c2d6" stroke="#98c2d6" stroke-width="0.4" textLength="24.6" lengthAdjust="spacingAndGlyphs">iSc</text>
<rect x="298.7" y="22.6" width="2.2" height="2.2" fill="#6fa5b8"/>
<rect x="304.9" y="22.6" width="2.2" height="2.2" fill="#6fa5b8"/>
<text x="305.6" y="42.6" font-family="Liberation Sans, Arial, sans-serif" font-size="7.1" fill="#2f7896" textLength="74.8" lengthAdjust="spacingAndGlyphs">Instituto de Salud Carlos III</text>
</svg><div class="abs" style="left:0;top:0;width:630px;height:1px;background:#dcdcdc"></div>
<div class="abs" id="title" style="left:67.3px;top:60.6px;font-size:8.6px;font-weight:bold;color:#2c4f74;line-height:14px;transform:scaleX(1.099);transform-origin:0 0;">Mapa provincial de posibles casos sospechosos COVID19 sintomáticos en las últimas dos semanas</div>
<div class="abs" id="foot" style="left:58.5px;top:419.9px;font-size:7.9px;color:#222;line-height:9px;transform:scaleX(0.933);transform-origin:0 0;">ENE-COVID. Centro Nacional de Epidemiología (ISCIII)</div>
<div class="abs" id="pg" style="left:331px;top:431.2px;width:10px;height:3.8px;overflow:hidden;"><div style="position:absolute;left:0.4px;top:-3.6px;font-size:7.6px;line-height:9px;color:#1a1a1a;">24</div></div>

</body></html>
